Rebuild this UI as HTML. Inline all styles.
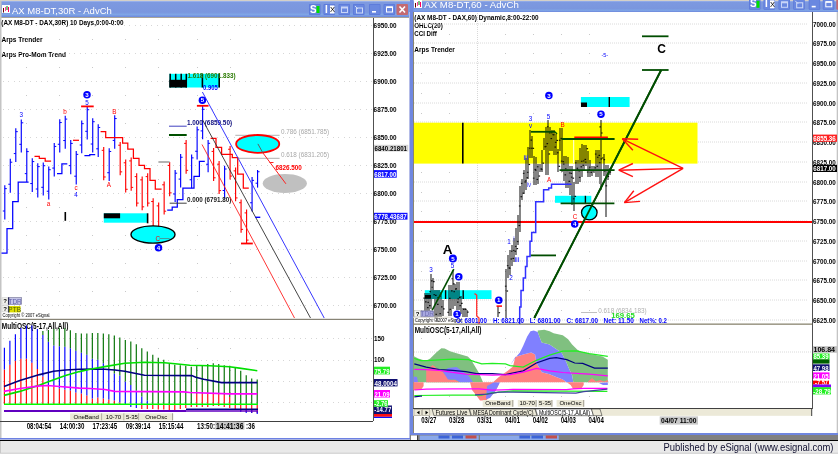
<!DOCTYPE html><html><head><meta charset="utf-8"><style>html,body{margin:0;padding:0;background:#ebebeb;overflow:hidden}svg{display:block}text{font-family:"Liberation Sans",sans-serif}</style></head><body>
<svg width="838" height="454" viewBox="0 0 838 454">
<defs>
<linearGradient id="tb" x1="0" y1="0" x2="0" y2="1">
<stop offset="0" stop-color="#a6bdf2"/><stop offset="0.08" stop-color="#7d99e0"/><stop offset="0.7" stop-color="#7a96de"/><stop offset="0.85" stop-color="#7fa5e6"/><stop offset="1" stop-color="#6c87dc"/>
</linearGradient>
</defs>
<rect x="0" y="0" width="838" height="454" fill="#ebebeb" />
<rect x="0" y="440" width="838" height="1" fill="#000" />
<rect x="0" y="441" width="838" height="13" fill="#e9e9e9" />
<rect x="0" y="452.5" width="838" height="1.5" fill="#d8d8d8" />
<rect x="0" y="441" width="1" height="12" fill="#c8c8c8" />
<text x="663.5" y="450.5" font-size="11" fill="#101030" textLength="170" lengthAdjust="spacingAndGlyphs" >Published by eSignal (www.esignal.com)</text>
<rect x="0" y="0" width="410" height="1" fill="#d4d0c8" />
<rect x="0" y="1" width="410" height="16" fill="url(#tb)" />
<rect x="0" y="17" width="410" height="1" fill="#a8a498" />
<rect x="0" y="18" width="410" height="420" fill="#ffffff" />
<rect x="0" y="1" width="1.5" height="437" fill="#c4c4c4" />
<rect x="0" y="438" width="412" height="1.5" fill="#6c80e2" />
<rect x="410" y="0" width="428" height="1" fill="#d4d0c8" />
<rect x="410" y="1" width="428" height="11" fill="url(#tb)" />
<rect x="409" y="12" width="1" height="426" fill="#b4bce8" />
<rect x="410" y="0" width="3.5" height="435" fill="#7088e0" />
<rect x="413" y="12" width="424" height="421" fill="#ffffff" />
<rect x="413" y="12" width="1" height="421" fill="#8a8670" />
<rect x="836.7" y="12" width="1.3" height="421" fill="#c4c4c4" />
<rect x="410" y="433" width="428" height="2.2" fill="#6f86df" />
<rect x="410" y="435" width="428" height="5" fill="#808080" />
<rect x="2" y="5" width="8" height="8" fill="#ffffff" />
<line x1="3.5" y1="8" x2="3.5" y2="12.5" stroke="#6b0000" stroke-width="1" />
<line x1="5.5" y1="7" x2="5.5" y2="11" stroke="#ff40a0" stroke-width="1" />
<line x1="7" y1="6" x2="7" y2="10" stroke="#008000" stroke-width="1" />
<line x1="8.5" y1="7" x2="8.5" y2="12" stroke="#ff0060" stroke-width="1" />
<text x="12" y="13.6" font-size="9.3" fill="#ffffff" textLength="99.8" lengthAdjust="spacingAndGlyphs" >AX M8-DT,30R - AdvCh</text>
<rect x="309" y="4" width="11.5" height="11" fill="#5a78d8" rx="1"/>
<rect x="309.7" y="4.7" width="10.1" height="9.6" fill="#6a88e0" />
<text x="310" y="12.5" font-size="10" fill="#fff" font-weight="bold" >S</text>
<rect x="316.5" y="6" width="3" height="7" fill="#00e000" />
<rect x="323.5" y="4" width="11.5" height="11" fill="#5a78d8" rx="1"/>
<rect x="324.2" y="4.7" width="10.1" height="9.6" fill="#6a88e0" />
<text x="325.0" y="12.5" font-size="10" fill="#fff" font-weight="bold" >I</text>
<rect x="330.0" y="5.5" width="4.5" height="8" fill="#ffffff" />
<text x="330.1" y="12.3" font-size="7.5" fill="#000" >X</text>
<rect x="338.5" y="4" width="11.5" height="11" fill="#5a78d8" rx="1"/>
<rect x="339.2" y="4.7" width="10.1" height="9.6" fill="#6a88e0" />
<rect x="341.5" y="7" width="6" height="5.5" fill="none" stroke="#c8d4f8" stroke-width="1"/>
<rect x="341.5" y="7" width="6" height="1.5" fill="#c8d4f8" />
<rect x="353" y="4" width="11.5" height="11" fill="#5a78d8" rx="1"/>
<rect x="353.7" y="4.7" width="10.1" height="9.6" fill="#6a88e0" />
<rect x="356.5" y="8" width="6" height="5" fill="none" stroke="#d0dcf8" stroke-width="1"/>
<line x1="355" y1="6" x2="358" y2="9" stroke="#d0dcf8" stroke-width="1" />
<rect x="369" y="4" width="11.5" height="11" fill="#5a78d8" rx="1"/>
<rect x="369.7" y="4.7" width="10.1" height="9.6" fill="#6a88e0" />
<rect x="372" y="11" width="4" height="1.6" fill="#ffffff" />
<rect x="383.5" y="4" width="11.5" height="11" fill="#5a78d8" rx="1"/>
<rect x="384.2" y="4.7" width="10.1" height="9.6" fill="#6a88e0" />
<rect x="386.5" y="7" width="6" height="5" fill="none" stroke="#ffffff" stroke-width="1"/>
<rect x="386.5" y="6.5" width="6" height="1.5" fill="#ffffff" />
<rect x="396.5" y="4" width="11.5" height="11" fill="#c46a70" rx="1"/>
<line x1="399.5" y1="6.5" x2="405.0" y2="12.5" stroke="#fff" stroke-width="1.6" />
<line x1="405.0" y1="6.5" x2="399.5" y2="12.5" stroke="#fff" stroke-width="1.6" />
<rect x="414" y="0" width="8" height="8" fill="#ffffff" />
<line x1="415.5" y1="3" x2="415.5" y2="7.5" stroke="#6b0000" stroke-width="1" />
<line x1="417.5" y1="2" x2="417.5" y2="6" stroke="#ff40a0" stroke-width="1" />
<line x1="419" y1="1" x2="419" y2="5" stroke="#008000" stroke-width="1" />
<line x1="420.5" y1="2" x2="420.5" y2="7" stroke="#ff0060" stroke-width="1" />
<text x="424.3" y="7.5" font-size="9.3" fill="#ffffff" textLength="94.5" lengthAdjust="spacingAndGlyphs" >AX M8-DT,60 - AdvCh</text>
<rect x="749" y="-1.2" width="11.5" height="11" fill="#5a78d8" rx="1"/>
<rect x="749.7" y="-0.5" width="10.1" height="9.6" fill="#6a88e0" />
<text x="750" y="7.300000000000001" font-size="10" fill="#fff" font-weight="bold" >S</text>
<rect x="756.5" y="0.8" width="3" height="7" fill="#00e000" />
<rect x="763.5" y="-1.2" width="11.5" height="11" fill="#5a78d8" rx="1"/>
<rect x="764.2" y="-0.5" width="10.1" height="9.6" fill="#6a88e0" />
<text x="765.0" y="7.300000000000001" font-size="10" fill="#fff" font-weight="bold" >I</text>
<rect x="770.0" y="0.30000000000000004" width="4.5" height="8" fill="#ffffff" />
<text x="770.1" y="7.1000000000000005" font-size="7.5" fill="#000" >X</text>
<rect x="778.5" y="-1.2" width="11.5" height="11" fill="#5a78d8" rx="1"/>
<rect x="779.2" y="-0.5" width="10.1" height="9.6" fill="#6a88e0" />
<rect x="781.5" y="1.8" width="6" height="5.5" fill="none" stroke="#c8d4f8" stroke-width="1"/>
<rect x="781.5" y="1.8" width="6" height="1.5" fill="#c8d4f8" />
<rect x="793.2" y="-1.2" width="11.5" height="11" fill="#5a78d8" rx="1"/>
<rect x="793.9000000000001" y="-0.5" width="10.1" height="9.6" fill="#6a88e0" />
<rect x="796.7" y="2.8" width="6" height="5" fill="none" stroke="#d0dcf8" stroke-width="1"/>
<line x1="795.2" y1="0.8" x2="798.2" y2="3.8" stroke="#d0dcf8" stroke-width="1" />
<rect x="808.7" y="-1.2" width="11.5" height="11" fill="#5a78d8" rx="1"/>
<rect x="809.4000000000001" y="-0.5" width="10.1" height="9.6" fill="#6a88e0" />
<rect x="811.7" y="5.800000000000001" width="4" height="1.6" fill="#ffffff" />
<rect x="822.8" y="-1.2" width="11.5" height="11" fill="#5a78d8" rx="1"/>
<rect x="823.5" y="-0.5" width="10.1" height="9.6" fill="#6a88e0" />
<rect x="825.8" y="1.8" width="6" height="5" fill="none" stroke="#ffffff" stroke-width="1"/>
<rect x="825.8" y="1.3" width="6" height="1.5" fill="#ffffff" />
<rect x="836.3" y="-1.2" width="11.5" height="11" fill="#c46a70" rx="1"/>
<line x1="839.3" y1="1.3" x2="844.8" y2="7.300000000000001" stroke="#fff" stroke-width="1.6" />
<line x1="844.8" y1="1.3" x2="839.3" y2="7.300000000000001" stroke="#fff" stroke-width="1.6" />
<text x="1.3" y="25.3" font-size="7.6" fill="#000" font-weight="bold" textLength="122.3" lengthAdjust="spacingAndGlyphs" >(AX M8-DT - DAX,30R) 10 Days,0:00-0:00</text>
<text x="1.5" y="41.5" font-size="7.6" fill="#000" font-weight="bold" textLength="41" lengthAdjust="spacingAndGlyphs" >Arps Trender</text>
<text x="1.5" y="57.3" font-size="7.6" fill="#000" font-weight="bold" textLength="64.5" lengthAdjust="spacingAndGlyphs" >Arps Pro-Mom Trend</text>
<text x="414.3" y="20.1" font-size="7.6" fill="#000" font-weight="bold" textLength="124.3" lengthAdjust="spacingAndGlyphs" >(AX M8-DT - DAX,60) Dynamic,8:00-22:00</text>
<text x="414.3" y="28" font-size="7.6" fill="#000" font-weight="bold" textLength="28.6" lengthAdjust="spacingAndGlyphs" >OHLC(20)</text>
<text x="414.3" y="36" font-size="7.6" fill="#000" font-weight="bold" textLength="22.6" lengthAdjust="spacingAndGlyphs" >CCI Diff</text>
<text x="414.3" y="52" font-size="7.6" fill="#000" font-weight="bold" textLength="40.6" lengthAdjust="spacingAndGlyphs" >Arps Trender</text>
<line x1="3" y1="25.5" x2="372" y2="25.5" stroke="#d6d6d6" stroke-width="1" stroke-dasharray="1 4 1 5"/>
<line x1="3" y1="53.5" x2="372" y2="53.5" stroke="#d6d6d6" stroke-width="1" stroke-dasharray="1 4 1 5"/>
<line x1="3" y1="81.5" x2="372" y2="81.5" stroke="#d6d6d6" stroke-width="1" stroke-dasharray="1 4 1 5"/>
<line x1="3" y1="109.5" x2="372" y2="109.5" stroke="#d6d6d6" stroke-width="1" stroke-dasharray="1 4 1 5"/>
<line x1="3" y1="137.5" x2="372" y2="137.5" stroke="#d6d6d6" stroke-width="1" stroke-dasharray="1 4 1 5"/>
<line x1="3" y1="165.5" x2="372" y2="165.5" stroke="#d6d6d6" stroke-width="1" stroke-dasharray="1 4 1 5"/>
<line x1="3" y1="193.5" x2="372" y2="193.5" stroke="#d6d6d6" stroke-width="1" stroke-dasharray="1 4 1 5"/>
<line x1="3" y1="221.5" x2="372" y2="221.5" stroke="#d6d6d6" stroke-width="1" stroke-dasharray="1 4 1 5"/>
<line x1="3" y1="249.5" x2="372" y2="249.5" stroke="#d6d6d6" stroke-width="1" stroke-dasharray="1 4 1 5"/>
<line x1="3" y1="277.5" x2="372" y2="277.5" stroke="#d6d6d6" stroke-width="1" stroke-dasharray="1 4 1 5"/>
<line x1="3" y1="305.5" x2="372" y2="305.5" stroke="#d6d6d6" stroke-width="1" stroke-dasharray="1 4 1 5"/>
<rect x="26" y="39" width="1" height="1" fill="#c8c8c8" />
<rect x="26" y="67" width="1" height="1" fill="#c8c8c8" />
<rect x="26" y="95" width="1" height="1" fill="#c8c8c8" />
<rect x="26" y="123" width="1" height="1" fill="#c8c8c8" />
<rect x="26" y="151" width="1" height="1" fill="#c8c8c8" />
<rect x="26" y="179" width="1" height="1" fill="#c8c8c8" />
<rect x="26" y="207" width="1" height="1" fill="#c8c8c8" />
<rect x="26" y="235" width="1" height="1" fill="#c8c8c8" />
<rect x="26" y="263" width="1" height="1" fill="#c8c8c8" />
<rect x="26" y="291" width="1" height="1" fill="#c8c8c8" />
<rect x="59" y="39" width="1" height="1" fill="#c8c8c8" />
<rect x="59" y="67" width="1" height="1" fill="#c8c8c8" />
<rect x="59" y="95" width="1" height="1" fill="#c8c8c8" />
<rect x="59" y="123" width="1" height="1" fill="#c8c8c8" />
<rect x="59" y="151" width="1" height="1" fill="#c8c8c8" />
<rect x="59" y="179" width="1" height="1" fill="#c8c8c8" />
<rect x="59" y="207" width="1" height="1" fill="#c8c8c8" />
<rect x="59" y="235" width="1" height="1" fill="#c8c8c8" />
<rect x="59" y="263" width="1" height="1" fill="#c8c8c8" />
<rect x="59" y="291" width="1" height="1" fill="#c8c8c8" />
<rect x="92" y="39" width="1" height="1" fill="#c8c8c8" />
<rect x="92" y="67" width="1" height="1" fill="#c8c8c8" />
<rect x="92" y="95" width="1" height="1" fill="#c8c8c8" />
<rect x="92" y="123" width="1" height="1" fill="#c8c8c8" />
<rect x="92" y="151" width="1" height="1" fill="#c8c8c8" />
<rect x="92" y="179" width="1" height="1" fill="#c8c8c8" />
<rect x="92" y="207" width="1" height="1" fill="#c8c8c8" />
<rect x="92" y="235" width="1" height="1" fill="#c8c8c8" />
<rect x="92" y="263" width="1" height="1" fill="#c8c8c8" />
<rect x="92" y="291" width="1" height="1" fill="#c8c8c8" />
<rect x="125" y="39" width="1" height="1" fill="#c8c8c8" />
<rect x="125" y="67" width="1" height="1" fill="#c8c8c8" />
<rect x="125" y="95" width="1" height="1" fill="#c8c8c8" />
<rect x="125" y="123" width="1" height="1" fill="#c8c8c8" />
<rect x="125" y="151" width="1" height="1" fill="#c8c8c8" />
<rect x="125" y="179" width="1" height="1" fill="#c8c8c8" />
<rect x="125" y="207" width="1" height="1" fill="#c8c8c8" />
<rect x="125" y="235" width="1" height="1" fill="#c8c8c8" />
<rect x="125" y="263" width="1" height="1" fill="#c8c8c8" />
<rect x="125" y="291" width="1" height="1" fill="#c8c8c8" />
<rect x="158" y="39" width="1" height="1" fill="#c8c8c8" />
<rect x="158" y="67" width="1" height="1" fill="#c8c8c8" />
<rect x="158" y="95" width="1" height="1" fill="#c8c8c8" />
<rect x="158" y="123" width="1" height="1" fill="#c8c8c8" />
<rect x="158" y="151" width="1" height="1" fill="#c8c8c8" />
<rect x="158" y="179" width="1" height="1" fill="#c8c8c8" />
<rect x="158" y="207" width="1" height="1" fill="#c8c8c8" />
<rect x="158" y="235" width="1" height="1" fill="#c8c8c8" />
<rect x="158" y="263" width="1" height="1" fill="#c8c8c8" />
<rect x="158" y="291" width="1" height="1" fill="#c8c8c8" />
<rect x="197" y="39" width="1" height="1" fill="#c8c8c8" />
<rect x="197" y="67" width="1" height="1" fill="#c8c8c8" />
<rect x="197" y="95" width="1" height="1" fill="#c8c8c8" />
<rect x="197" y="123" width="1" height="1" fill="#c8c8c8" />
<rect x="197" y="151" width="1" height="1" fill="#c8c8c8" />
<rect x="197" y="179" width="1" height="1" fill="#c8c8c8" />
<rect x="197" y="207" width="1" height="1" fill="#c8c8c8" />
<rect x="197" y="235" width="1" height="1" fill="#c8c8c8" />
<rect x="197" y="263" width="1" height="1" fill="#c8c8c8" />
<rect x="197" y="291" width="1" height="1" fill="#c8c8c8" />
<rect x="230" y="39" width="1" height="1" fill="#c8c8c8" />
<rect x="230" y="67" width="1" height="1" fill="#c8c8c8" />
<rect x="230" y="95" width="1" height="1" fill="#c8c8c8" />
<rect x="230" y="123" width="1" height="1" fill="#c8c8c8" />
<rect x="230" y="151" width="1" height="1" fill="#c8c8c8" />
<rect x="230" y="179" width="1" height="1" fill="#c8c8c8" />
<rect x="230" y="207" width="1" height="1" fill="#c8c8c8" />
<rect x="230" y="235" width="1" height="1" fill="#c8c8c8" />
<rect x="230" y="263" width="1" height="1" fill="#c8c8c8" />
<rect x="230" y="291" width="1" height="1" fill="#c8c8c8" />
<rect x="373" y="18" width="1" height="403" fill="#505050" />
<text x="373.6" y="28" font-size="7.6" fill="#000" font-weight="bold" textLength="23" lengthAdjust="spacingAndGlyphs" >6950.00</text>
<text x="373.6" y="56" font-size="7.6" fill="#000" font-weight="bold" textLength="23" lengthAdjust="spacingAndGlyphs" >6925.00</text>
<text x="373.6" y="84" font-size="7.6" fill="#000" font-weight="bold" textLength="23" lengthAdjust="spacingAndGlyphs" >6900.00</text>
<text x="373.6" y="112" font-size="7.6" fill="#000" font-weight="bold" textLength="23" lengthAdjust="spacingAndGlyphs" >6875.00</text>
<text x="373.6" y="140" font-size="7.6" fill="#000" font-weight="bold" textLength="23" lengthAdjust="spacingAndGlyphs" >6850.00</text>
<text x="373.6" y="168" font-size="7.6" fill="#000" font-weight="bold" textLength="23" lengthAdjust="spacingAndGlyphs" >6825.00</text>
<text x="373.6" y="196" font-size="7.6" fill="#000" font-weight="bold" textLength="23" lengthAdjust="spacingAndGlyphs" >6800.00</text>
<text x="373.6" y="224" font-size="7.6" fill="#000" font-weight="bold" textLength="23" lengthAdjust="spacingAndGlyphs" >6775.00</text>
<text x="373.6" y="252" font-size="7.6" fill="#000" font-weight="bold" textLength="23" lengthAdjust="spacingAndGlyphs" >6750.00</text>
<text x="373.6" y="280" font-size="7.6" fill="#000" font-weight="bold" textLength="23" lengthAdjust="spacingAndGlyphs" >6725.00</text>
<text x="373.6" y="308" font-size="7.6" fill="#000" font-weight="bold" textLength="23" lengthAdjust="spacingAndGlyphs" >6700.00</text>
<rect x="0" y="318.8" width="373" height="1.1" fill="#7a7666" />
<rect x="0" y="421" width="373" height="1" fill="#404040" />
<rect x="374" y="144.8" width="34.3" height="6.7" fill="#d4d4d4" />
<text x="374.5" y="150.9" font-size="7.6" fill="#000" font-weight="bold" textLength="32.5" lengthAdjust="spacingAndGlyphs" >6840.21801</text>
<rect x="374" y="170.1" width="22.7" height="7.6" fill="#1010ff" />
<text x="374.3" y="176.7" font-size="7.6" fill="#fff" font-weight="bold" textLength="22" lengthAdjust="spacingAndGlyphs" >6817.00</text>
<rect x="374" y="212.8" width="33.5" height="6.8" fill="#1010ff" />
<text x="374.3" y="218.8" font-size="7.6" fill="#fff" font-weight="bold" textLength="32.5" lengthAdjust="spacingAndGlyphs" >6778.43687</text>
<line x1="4.8" y1="185.2" x2="4.8" y2="219.6" stroke="#0000ff" stroke-width="1.15" />
<line x1="2.8" y1="211.0" x2="4.8" y2="211.0" stroke="#0000ff" stroke-width="1" />
<line x1="4.8" y1="188.64" x2="6.8" y2="188.64" stroke="#0000ff" stroke-width="1" />
<line x1="10.295" y1="158.8" x2="10.295" y2="192.7" stroke="#0000ff" stroke-width="1.15" />
<line x1="8.295" y1="184.225" x2="10.295" y2="184.225" stroke="#0000ff" stroke-width="1" />
<line x1="10.295" y1="162.19" x2="12.295" y2="162.19" stroke="#0000ff" stroke-width="1" />
<line x1="15.79" y1="128.3" x2="15.79" y2="162" stroke="#0000ff" stroke-width="1.15" />
<line x1="13.79" y1="153.575" x2="15.79" y2="153.575" stroke="#0000ff" stroke-width="1" />
<line x1="15.79" y1="131.67000000000002" x2="17.79" y2="131.67000000000002" stroke="#0000ff" stroke-width="1" />
<line x1="21.285" y1="119.5" x2="21.285" y2="152.6" stroke="#0000ff" stroke-width="1.15" />
<line x1="19.285" y1="144.325" x2="21.285" y2="144.325" stroke="#0000ff" stroke-width="1" />
<line x1="21.285" y1="122.81" x2="23.285" y2="122.81" stroke="#0000ff" stroke-width="1" />
<line x1="26.78" y1="148.2" x2="26.78" y2="182.1" stroke="#0000ff" stroke-width="1.15" />
<line x1="24.78" y1="173.625" x2="26.78" y2="173.625" stroke="#0000ff" stroke-width="1" />
<line x1="26.78" y1="151.58999999999997" x2="28.78" y2="151.58999999999997" stroke="#0000ff" stroke-width="1" />
<line x1="32.275" y1="158.2" x2="32.275" y2="192" stroke="#0000ff" stroke-width="1.15" />
<line x1="30.275" y1="183.55" x2="32.275" y2="183.55" stroke="#0000ff" stroke-width="1" />
<line x1="32.275" y1="161.57999999999998" x2="34.275" y2="161.57999999999998" stroke="#0000ff" stroke-width="1" />
<line x1="37.769999999999996" y1="163.2" x2="37.769999999999996" y2="197.6" stroke="#0000ff" stroke-width="1.15" />
<line x1="35.769999999999996" y1="189.0" x2="37.769999999999996" y2="189.0" stroke="#0000ff" stroke-width="1" />
<line x1="37.769999999999996" y1="166.64" x2="39.769999999999996" y2="166.64" stroke="#0000ff" stroke-width="1" />
<line x1="43.265" y1="162.4" x2="43.265" y2="195.6" stroke="#0000ff" stroke-width="1.15" />
<line x1="41.265" y1="187.3" x2="43.265" y2="187.3" stroke="#0000ff" stroke-width="1" />
<line x1="43.265" y1="165.72" x2="45.265" y2="165.72" stroke="#0000ff" stroke-width="1" />
<line x1="48.76" y1="166.4" x2="48.76" y2="199.5" stroke="#0000ff" stroke-width="1.15" />
<line x1="46.76" y1="191.225" x2="48.76" y2="191.225" stroke="#0000ff" stroke-width="1" />
<line x1="48.76" y1="169.71" x2="50.76" y2="169.71" stroke="#0000ff" stroke-width="1" />
<line x1="54.254999999999995" y1="143.1" x2="54.254999999999995" y2="176.4" stroke="#0000ff" stroke-width="1.15" />
<line x1="52.254999999999995" y1="168.075" x2="54.254999999999995" y2="168.075" stroke="#0000ff" stroke-width="1" />
<line x1="54.254999999999995" y1="146.43" x2="56.254999999999995" y2="146.43" stroke="#0000ff" stroke-width="1" />
<line x1="59.75" y1="119.2" x2="59.75" y2="152.6" stroke="#0000ff" stroke-width="1.15" />
<line x1="57.75" y1="144.25" x2="59.75" y2="144.25" stroke="#0000ff" stroke-width="1" />
<line x1="59.75" y1="122.54" x2="61.75" y2="122.54" stroke="#0000ff" stroke-width="1" />
<line x1="65.245" y1="115.8" x2="65.245" y2="148.8" stroke="#0000ff" stroke-width="1.15" />
<line x1="63.245000000000005" y1="140.55" x2="65.245" y2="140.55" stroke="#0000ff" stroke-width="1" />
<line x1="65.245" y1="119.1" x2="67.245" y2="119.1" stroke="#0000ff" stroke-width="1" />
<line x1="70.74" y1="140" x2="70.74" y2="174.2" stroke="#0000ff" stroke-width="1.15" />
<line x1="68.74" y1="165.64999999999998" x2="70.74" y2="165.64999999999998" stroke="#0000ff" stroke-width="1" />
<line x1="70.74" y1="143.42" x2="72.74" y2="143.42" stroke="#0000ff" stroke-width="1" />
<line x1="76.235" y1="151" x2="76.235" y2="184.6" stroke="#0000ff" stroke-width="1.15" />
<line x1="74.235" y1="176.2" x2="76.235" y2="176.2" stroke="#0000ff" stroke-width="1" />
<line x1="76.235" y1="154.36" x2="78.235" y2="154.36" stroke="#0000ff" stroke-width="1" />
<line x1="81.73" y1="120.4" x2="81.73" y2="153.2" stroke="#0000ff" stroke-width="1.15" />
<line x1="79.73" y1="145.0" x2="81.73" y2="145.0" stroke="#0000ff" stroke-width="1" />
<line x1="81.73" y1="123.68" x2="83.73" y2="123.68" stroke="#0000ff" stroke-width="1" />
<line x1="87.225" y1="106.4" x2="87.225" y2="139.6" stroke="#0000ff" stroke-width="1.15" />
<line x1="85.225" y1="131.3" x2="87.225" y2="131.3" stroke="#0000ff" stroke-width="1" />
<line x1="87.225" y1="109.72" x2="89.225" y2="109.72" stroke="#0000ff" stroke-width="1" />
<line x1="92.72" y1="118.3" x2="92.72" y2="152.6" stroke="#0000ff" stroke-width="1.15" />
<line x1="90.72" y1="144.025" x2="92.72" y2="144.025" stroke="#0000ff" stroke-width="1" />
<line x1="92.72" y1="121.72999999999999" x2="94.72" y2="121.72999999999999" stroke="#0000ff" stroke-width="1" />
<line x1="98.215" y1="124.2" x2="98.215" y2="157" stroke="#0000ff" stroke-width="1.15" />
<line x1="96.215" y1="148.8" x2="98.215" y2="148.8" stroke="#0000ff" stroke-width="1" />
<line x1="98.215" y1="127.48" x2="100.215" y2="127.48" stroke="#0000ff" stroke-width="1" />
<line x1="103.71" y1="147" x2="103.71" y2="180.3" stroke="#ff0000" stroke-width="1.15" />
<line x1="101.71" y1="150.33" x2="103.71" y2="150.33" stroke="#ff0000" stroke-width="1" />
<line x1="103.71" y1="176.97" x2="105.71" y2="176.97" stroke="#ff0000" stroke-width="1" />
<line x1="109.205" y1="148.2" x2="109.205" y2="180.9" stroke="#0000ff" stroke-width="1.15" />
<line x1="107.205" y1="172.725" x2="109.205" y2="172.725" stroke="#0000ff" stroke-width="1" />
<line x1="109.205" y1="151.47" x2="111.205" y2="151.47" stroke="#0000ff" stroke-width="1" />
<line x1="114.7" y1="115.2" x2="114.7" y2="148.8" stroke="#0000ff" stroke-width="1.15" />
<line x1="112.7" y1="140.4" x2="114.7" y2="140.4" stroke="#0000ff" stroke-width="1" />
<line x1="114.7" y1="118.56" x2="116.7" y2="118.56" stroke="#0000ff" stroke-width="1" />
<line x1="120.195" y1="141.9" x2="120.195" y2="175.2" stroke="#ff0000" stroke-width="1.15" />
<line x1="118.195" y1="145.23000000000002" x2="120.195" y2="145.23000000000002" stroke="#ff0000" stroke-width="1" />
<line x1="120.195" y1="171.87" x2="122.195" y2="171.87" stroke="#ff0000" stroke-width="1" />
<line x1="125.69" y1="159.5" x2="125.69" y2="192.6" stroke="#ff0000" stroke-width="1.15" />
<line x1="123.69" y1="162.81" x2="125.69" y2="162.81" stroke="#ff0000" stroke-width="1" />
<line x1="125.69" y1="189.29" x2="127.69" y2="189.29" stroke="#ff0000" stroke-width="1" />
<line x1="131.185" y1="157.6" x2="131.185" y2="190.7" stroke="#ff0000" stroke-width="1.15" />
<line x1="129.185" y1="160.91" x2="131.185" y2="160.91" stroke="#ff0000" stroke-width="1" />
<line x1="131.185" y1="187.39" x2="133.185" y2="187.39" stroke="#ff0000" stroke-width="1" />
<line x1="136.68" y1="173.3" x2="136.68" y2="206.4" stroke="#ff0000" stroke-width="1.15" />
<line x1="134.68" y1="176.61" x2="136.68" y2="176.61" stroke="#ff0000" stroke-width="1" />
<line x1="136.68" y1="203.09" x2="138.68" y2="203.09" stroke="#ff0000" stroke-width="1" />
<line x1="142.175" y1="176.5" x2="142.175" y2="210.2" stroke="#ff0000" stroke-width="1.15" />
<line x1="140.175" y1="179.87" x2="142.175" y2="179.87" stroke="#ff0000" stroke-width="1" />
<line x1="142.175" y1="206.82999999999998" x2="144.175" y2="206.82999999999998" stroke="#ff0000" stroke-width="1" />
<line x1="147.67000000000002" y1="173.3" x2="147.67000000000002" y2="206.4" stroke="#ff0000" stroke-width="1.15" />
<line x1="145.67000000000002" y1="176.61" x2="147.67000000000002" y2="176.61" stroke="#ff0000" stroke-width="1" />
<line x1="147.67000000000002" y1="203.09" x2="149.67000000000002" y2="203.09" stroke="#ff0000" stroke-width="1" />
<line x1="153.16500000000002" y1="198.2" x2="153.16500000000002" y2="231.5" stroke="#ff0000" stroke-width="1.15" />
<line x1="151.16500000000002" y1="201.53" x2="153.16500000000002" y2="201.53" stroke="#ff0000" stroke-width="1" />
<line x1="153.16500000000002" y1="228.17" x2="155.16500000000002" y2="228.17" stroke="#ff0000" stroke-width="1" />
<line x1="158.66000000000003" y1="202.6" x2="158.66000000000003" y2="235.3" stroke="#ff0000" stroke-width="1.15" />
<line x1="156.66000000000003" y1="205.87" x2="158.66000000000003" y2="205.87" stroke="#ff0000" stroke-width="1" />
<line x1="158.66000000000003" y1="232.03" x2="160.66000000000003" y2="232.03" stroke="#ff0000" stroke-width="1" />
<line x1="164.155" y1="181.5" x2="164.155" y2="214.5" stroke="#ff0000" stroke-width="1.15" />
<line x1="162.155" y1="184.8" x2="164.155" y2="184.8" stroke="#ff0000" stroke-width="1" />
<line x1="164.155" y1="211.2" x2="166.155" y2="211.2" stroke="#ff0000" stroke-width="1" />
<line x1="169.65" y1="162" x2="169.65" y2="196.3" stroke="#ff0000" stroke-width="1.15" />
<line x1="167.65" y1="165.43" x2="169.65" y2="165.43" stroke="#ff0000" stroke-width="1" />
<line x1="169.65" y1="192.87" x2="171.65" y2="192.87" stroke="#ff0000" stroke-width="1" />
<line x1="175.145" y1="170" x2="175.145" y2="202" stroke="#0000ff" stroke-width="1.15" />
<line x1="173.145" y1="194.0" x2="175.145" y2="194.0" stroke="#0000ff" stroke-width="1" />
<line x1="175.145" y1="173.2" x2="177.145" y2="173.2" stroke="#0000ff" stroke-width="1" />
<line x1="180.64000000000001" y1="153.9" x2="180.64000000000001" y2="187.5" stroke="#0000ff" stroke-width="1.15" />
<line x1="178.64000000000001" y1="179.1" x2="180.64000000000001" y2="179.1" stroke="#0000ff" stroke-width="1" />
<line x1="180.64000000000001" y1="157.26" x2="182.64000000000001" y2="157.26" stroke="#0000ff" stroke-width="1" />
<line x1="186.13500000000002" y1="140" x2="186.13500000000002" y2="173.7" stroke="#ff0000" stroke-width="1.15" />
<line x1="184.13500000000002" y1="143.37" x2="186.13500000000002" y2="143.37" stroke="#ff0000" stroke-width="1" />
<line x1="186.13500000000002" y1="170.32999999999998" x2="188.13500000000002" y2="170.32999999999998" stroke="#ff0000" stroke-width="1" />
<line x1="191.63000000000002" y1="154.5" x2="191.63000000000002" y2="188.2" stroke="#0000ff" stroke-width="1.15" />
<line x1="189.63000000000002" y1="179.77499999999998" x2="191.63000000000002" y2="179.77499999999998" stroke="#0000ff" stroke-width="1" />
<line x1="191.63000000000002" y1="157.87" x2="193.63000000000002" y2="157.87" stroke="#0000ff" stroke-width="1" />
<line x1="197.12500000000003" y1="126.5" x2="197.12500000000003" y2="159.5" stroke="#0000ff" stroke-width="1.15" />
<line x1="195.12500000000003" y1="151.25" x2="197.12500000000003" y2="151.25" stroke="#0000ff" stroke-width="1" />
<line x1="197.12500000000003" y1="129.8" x2="199.12500000000003" y2="129.8" stroke="#0000ff" stroke-width="1" />
<line x1="202.62" y1="106" x2="202.62" y2="139.2" stroke="#0000ff" stroke-width="1.15" />
<line x1="200.62" y1="130.89999999999998" x2="202.62" y2="130.89999999999998" stroke="#0000ff" stroke-width="1" />
<line x1="202.62" y1="109.32" x2="204.62" y2="109.32" stroke="#0000ff" stroke-width="1" />
<line x1="208.115" y1="140.1" x2="208.115" y2="172.3" stroke="#0000ff" stroke-width="1.15" />
<line x1="206.115" y1="164.25" x2="208.115" y2="164.25" stroke="#0000ff" stroke-width="1" />
<line x1="208.115" y1="143.32" x2="210.115" y2="143.32" stroke="#0000ff" stroke-width="1" />
<line x1="213.61" y1="148.1" x2="213.61" y2="181.1" stroke="#ff0000" stroke-width="1.15" />
<line x1="211.61" y1="151.4" x2="213.61" y2="151.4" stroke="#ff0000" stroke-width="1" />
<line x1="213.61" y1="177.79999999999998" x2="215.61" y2="177.79999999999998" stroke="#ff0000" stroke-width="1" />
<line x1="219.10500000000002" y1="160.9" x2="219.10500000000002" y2="193.9" stroke="#ff0000" stroke-width="1.15" />
<line x1="217.10500000000002" y1="164.20000000000002" x2="219.10500000000002" y2="164.20000000000002" stroke="#ff0000" stroke-width="1" />
<line x1="219.10500000000002" y1="190.6" x2="221.10500000000002" y2="190.6" stroke="#ff0000" stroke-width="1" />
<line x1="224.60000000000002" y1="165.7" x2="224.60000000000002" y2="198.8" stroke="#0000ff" stroke-width="1.15" />
<line x1="222.60000000000002" y1="190.525" x2="224.60000000000002" y2="190.525" stroke="#0000ff" stroke-width="1" />
<line x1="224.60000000000002" y1="169.01" x2="226.60000000000002" y2="169.01" stroke="#0000ff" stroke-width="1" />
<line x1="230.09500000000003" y1="145.9" x2="230.09500000000003" y2="179.4" stroke="#ff0000" stroke-width="1.15" />
<line x1="228.09500000000003" y1="149.25" x2="230.09500000000003" y2="149.25" stroke="#ff0000" stroke-width="1" />
<line x1="230.09500000000003" y1="176.05" x2="232.09500000000003" y2="176.05" stroke="#ff0000" stroke-width="1" />
<line x1="235.59" y1="167.5" x2="235.59" y2="201.3" stroke="#ff0000" stroke-width="1.15" />
<line x1="233.59" y1="170.88" x2="235.59" y2="170.88" stroke="#ff0000" stroke-width="1" />
<line x1="235.59" y1="197.92000000000002" x2="237.59" y2="197.92000000000002" stroke="#ff0000" stroke-width="1" />
<line x1="241.085" y1="199.4" x2="241.085" y2="232.7" stroke="#ff0000" stroke-width="1.15" />
<line x1="239.085" y1="202.73000000000002" x2="241.085" y2="202.73000000000002" stroke="#ff0000" stroke-width="1" />
<line x1="241.085" y1="229.37" x2="243.085" y2="229.37" stroke="#ff0000" stroke-width="1" />
<line x1="246.58" y1="209.5" x2="246.58" y2="243.5" stroke="#ff0000" stroke-width="1.15" />
<line x1="244.58" y1="212.9" x2="246.58" y2="212.9" stroke="#ff0000" stroke-width="1" />
<line x1="246.58" y1="240.1" x2="248.58" y2="240.1" stroke="#ff0000" stroke-width="1" />
<line x1="252.07500000000002" y1="176.9" x2="252.07500000000002" y2="211.4" stroke="#0000ff" stroke-width="1.15" />
<line x1="250.07500000000002" y1="202.775" x2="252.07500000000002" y2="202.775" stroke="#0000ff" stroke-width="1" />
<line x1="252.07500000000002" y1="180.35" x2="254.07500000000002" y2="180.35" stroke="#0000ff" stroke-width="1" />
<line x1="257.57" y1="170" x2="257.57" y2="187.6" stroke="#0000ff" stroke-width="1.15" />
<line x1="255.57" y1="183.2" x2="257.57" y2="183.2" stroke="#0000ff" stroke-width="1" />
<line x1="257.57" y1="171.76" x2="259.57" y2="171.76" stroke="#0000ff" stroke-width="1" />
<polyline points="34.5,156.3 39.3,156.3 39.3,158.4 45.2,158.4 45.2,161.1 51.1,161.1" fill="none" stroke="#ff0000" stroke-width="1.25" />
<polyline points="57,173.5 61.9,173.5 61.9,163.8 67.3,163.8" fill="none" stroke="#0000ff" stroke-width="1.25" />
<polyline points="73,140.3 79,140.3" fill="none" stroke="#ff0000" stroke-width="1.25" />
<polyline points="84.4,155.5 89.8,155.5 89.8,154.5 95.2,154.5" fill="none" stroke="#0000ff" stroke-width="1.25" />
<polyline points="1.5,253.2 7,253.2 7,228.5 12.7,228.5 12.7,201.6 18.2,201.6 18.2,182.2 28.6,182.2" fill="none" stroke="#0000ff" stroke-width="1.25" />
<polyline points="100.6,131.7 105.7,131.7 105.7,137.5 122.6,137.5 122.6,143.2 127.8,143.2 127.8,149.2 133.4,149.2 133.4,158.3 139,158.3 139,165.4 144.5,165.4 144.5,168.7 150,168.7 150,180.3 155.3,180.3 155.3,189 161.6,189" fill="none" stroke="#ff0000" stroke-width="1.25" />
<polyline points="167.2,210.2 172.2,210.2 172.2,207 177.3,207 177.3,199.5 182.9,199.5 182.9,188.2 194,188.2 194,176.3 199.4,176.3 199.4,161.3 204.8,161.3" fill="none" stroke="#0000ff" stroke-width="1.25" />
<polyline points="210.6,138.4 216,138.4 216,147.4 221.6,147.4 221.6,154.3 232.3,154.3 232.3,157.7 237.7,157.7 237.7,174 243.3,174 243.3,188.2 248.8,188.2" fill="none" stroke="#ff0000" stroke-width="1.25" />
<text x="21.2" y="117.3" font-size="6.3" fill="#0000ff" font-weight="normal" text-anchor="middle" >3</text>
<text x="65" y="114.2" font-size="6.3" fill="#ff0000" font-weight="normal" text-anchor="middle" >b</text>
<text x="87" y="104.6" font-size="6.3" fill="#0000ff" font-weight="normal" text-anchor="middle" >5</text>
<circle cx="87" cy="94.7" r="3.75" fill="#0000ff"/>
<text x="87" y="96.8" font-size="6.2" fill="#ffffff" font-weight="bold" text-anchor="middle" >3</text>
<line x1="81.1" y1="106.4" x2="93.7" y2="106.4" stroke="#ff0000" stroke-width="1.8" />
<text x="48.5" y="206" font-size="6.3" fill="#ff0000" font-weight="normal" text-anchor="middle" >a</text>
<text x="76" y="190.4" font-size="6.3" fill="#ff0000" font-weight="normal" text-anchor="middle" >c</text>
<text x="76" y="197.2" font-size="6.3" fill="#0000ff" font-weight="normal" text-anchor="middle" >4</text>
<text x="114.4" y="114.2" font-size="6.3" fill="#ff0000" font-weight="normal" text-anchor="middle" >B</text>
<text x="108.8" y="187.2" font-size="6.3" fill="#ff0000" font-weight="normal" text-anchor="middle" >A</text>
<circle cx="202.4" cy="100.2" r="3.75" fill="#0000ff"/>
<text x="202.4" y="102.3" font-size="6.2" fill="#ffffff" font-weight="bold" text-anchor="middle" >5</text>
<line x1="196.9" y1="105.8" x2="208.5" y2="105.8" stroke="#ff0000" stroke-width="1.8" />
<line x1="65.3" y1="212" x2="65.3" y2="220.8" stroke="#000" stroke-width="1.6" />
<rect x="103.8" y="213.3" width="43.7" height="9.4" fill="#00ffff" />
<rect x="103.8" y="213.3" width="16.3" height="5" fill="#000000" />
<line x1="147.6" y1="213.3" x2="147.6" y2="223.3" stroke="#000" stroke-width="1.6" />
<ellipse cx="153" cy="234.5" rx="22" ry="8.6" fill="#00ffff" stroke="#000" stroke-width="1.4"/>
<text x="157.8" y="241.3" font-size="6.3" fill="#ff0000" font-weight="normal" text-anchor="middle" >C</text>
<line x1="159.6" y1="238.5" x2="169.6" y2="238.5" stroke="#40a0a0" stroke-width="1" />
<circle cx="158.5" cy="247.7" r="3.75" fill="#0000ff"/>
<text x="158.5" y="249.79999999999998" font-size="6.2" fill="#ffffff" font-weight="bold" text-anchor="middle" >4</text>
<rect x="169.4" y="73.8" width="50.1" height="13.7" fill="#00ffff" />
<rect x="169.4" y="79.8" width="17.6" height="7.7" fill="#000" />
<line x1="170.2" y1="73.8" x2="170.2" y2="87.5" stroke="#000" stroke-width="1.5" />
<line x1="175.7" y1="73.8" x2="175.7" y2="87.5" stroke="#000" stroke-width="1.5" />
<line x1="181.2" y1="73.8" x2="181.2" y2="87.5" stroke="#000" stroke-width="1.5" />
<line x1="186.3" y1="73.8" x2="186.3" y2="87.5" stroke="#000" stroke-width="1.5" />
<line x1="202.4" y1="73.8" x2="202.4" y2="87.5" stroke="#000" stroke-width="1.6" />
<line x1="219.2" y1="73.8" x2="219.2" y2="87.5" stroke="#000" stroke-width="1.6" />
<text x="187.5" y="77.8" font-size="6.8" fill="#2a7a00" font-weight="bold" textLength="48" lengthAdjust="spacingAndGlyphs" >1.618 (6901.833)</text>
<text x="203" y="90.4" font-size="6.8" fill="#0000ff" font-weight="bold" textLength="14.8" lengthAdjust="spacingAndGlyphs" >0.905</text>
<line x1="169" y1="126.2" x2="186.7" y2="126.2" stroke="#4040c0" stroke-width="1" />
<line x1="169" y1="135" x2="186.7" y2="135" stroke="#005000" stroke-width="2" />
<text x="186.9" y="125.1" font-size="6.6" fill="#101080" font-weight="bold" textLength="45.2" lengthAdjust="spacingAndGlyphs" >1.000 (6859.50)</text>
<line x1="158.4" y1="162" x2="169.7" y2="162" stroke="#a0a0a0" stroke-width="1.6" />
<line x1="169.7" y1="203.2" x2="186.7" y2="203.2" stroke="#404040" stroke-width="1" />
<text x="187" y="202.2" font-size="6.6" fill="#202020" font-weight="bold" textLength="44.4" lengthAdjust="spacingAndGlyphs" >0.000 (6791.80)</text>
<line x1="202.4" y1="92" x2="324.2" y2="318" stroke="#2020ff" stroke-width="0.9" />
<line x1="202.6" y1="120" x2="310.5" y2="318" stroke="#303030" stroke-width="0.9" />
<line x1="202" y1="144.5" x2="294.5" y2="318" stroke="#ff2020" stroke-width="0.9" />
<line x1="241" y1="243.5" x2="252.8" y2="243.5" stroke="#ff0000" stroke-width="1.8" />
<line x1="255.3" y1="217.3" x2="260.3" y2="217.3" stroke="#0000ff" stroke-width="1.4" />
<line x1="235.3" y1="135.3" x2="279.6" y2="135.3" stroke="#b0b0b0" stroke-width="1" />
<line x1="238.8" y1="158.3" x2="279.6" y2="158.3" stroke="#b0b0b0" stroke-width="1" />
<text x="280.9" y="133.8" font-size="6.6" fill="#a8a8a8" font-weight="normal" textLength="48.3" lengthAdjust="spacingAndGlyphs" >0.786 (6851.785)</text>
<text x="280.9" y="156.7" font-size="6.6" fill="#a8a8a8" font-weight="normal" textLength="48.3" lengthAdjust="spacingAndGlyphs" >0.618 (6831.205)</text>
<ellipse cx="284.8" cy="183.4" rx="22.1" ry="9.5" fill="#c0c0c0"/>
<ellipse cx="257.7" cy="143.9" rx="21.6" ry="8.9" fill="#00ffff" stroke="#ff0000" stroke-width="1.8"/>
<line x1="257.9" y1="143.9" x2="262.9" y2="152.9" stroke="#606060" stroke-width="1" />
<line x1="262.9" y1="152.9" x2="285.9" y2="183.8" stroke="#ff2020" stroke-width="1" />
<line x1="269.5" y1="162.5" x2="273.5" y2="162.5" stroke="#ff2020" stroke-width="1" />
<text x="275.5" y="170.3" font-size="7" fill="#ff0000" font-weight="bold" textLength="26.4" lengthAdjust="spacingAndGlyphs" >6826.500</text>
<text x="1.8" y="328.7" font-size="8.6" fill="#000" font-weight="bold" textLength="66.5" lengthAdjust="spacingAndGlyphs" >MultiOSC(5-17,All,All)</text>
<line x1="3" y1="338.5" x2="372" y2="338.5" stroke="#d6d6d6" stroke-width="1" stroke-dasharray="1 4 1 5"/>
<line x1="3" y1="360.5" x2="372" y2="360.5" stroke="#d6d6d6" stroke-width="1" stroke-dasharray="1 4 1 5"/>
<line x1="3" y1="381.5" x2="372" y2="381.5" stroke="#d6d6d6" stroke-width="1" stroke-dasharray="1 4 1 5"/>
<line x1="3" y1="402.5" x2="372" y2="402.5" stroke="#d6d6d6" stroke-width="1" stroke-dasharray="1 4 1 5"/>
<rect x="26" y="348" width="1" height="1" fill="#c8c8c8" />
<rect x="26" y="370" width="1" height="1" fill="#c8c8c8" />
<rect x="26" y="392" width="1" height="1" fill="#c8c8c8" />
<rect x="59" y="348" width="1" height="1" fill="#c8c8c8" />
<rect x="59" y="370" width="1" height="1" fill="#c8c8c8" />
<rect x="59" y="392" width="1" height="1" fill="#c8c8c8" />
<rect x="92" y="348" width="1" height="1" fill="#c8c8c8" />
<rect x="92" y="370" width="1" height="1" fill="#c8c8c8" />
<rect x="92" y="392" width="1" height="1" fill="#c8c8c8" />
<rect x="125" y="348" width="1" height="1" fill="#c8c8c8" />
<rect x="125" y="370" width="1" height="1" fill="#c8c8c8" />
<rect x="125" y="392" width="1" height="1" fill="#c8c8c8" />
<rect x="158" y="348" width="1" height="1" fill="#c8c8c8" />
<rect x="158" y="370" width="1" height="1" fill="#c8c8c8" />
<rect x="158" y="392" width="1" height="1" fill="#c8c8c8" />
<rect x="197" y="348" width="1" height="1" fill="#c8c8c8" />
<rect x="197" y="370" width="1" height="1" fill="#c8c8c8" />
<rect x="197" y="392" width="1" height="1" fill="#c8c8c8" />
<rect x="230" y="348" width="1" height="1" fill="#c8c8c8" />
<rect x="230" y="370" width="1" height="1" fill="#c8c8c8" />
<rect x="230" y="392" width="1" height="1" fill="#c8c8c8" />
<line x1="4.4" y1="369.6" x2="4.4" y2="404" stroke="#ff0000" stroke-width="1.15" />
<line x1="4.4" y1="347.8" x2="4.4" y2="369.6" stroke="#0000ff" stroke-width="1.15" />
<line x1="9.896" y1="364.7" x2="9.896" y2="404" stroke="#ff0000" stroke-width="1.15" />
<line x1="9.896" y1="340.8" x2="9.896" y2="364.7" stroke="#0000ff" stroke-width="1.15" />
<line x1="15.392000000000001" y1="360.7" x2="15.392000000000001" y2="404" stroke="#ff0000" stroke-width="1.15" />
<line x1="15.392000000000001" y1="334.3" x2="15.392000000000001" y2="360.7" stroke="#0000ff" stroke-width="1.15" />
<line x1="20.887999999999998" y1="358.7" x2="20.887999999999998" y2="404" stroke="#ff0000" stroke-width="1.15" />
<line x1="20.887999999999998" y1="328" x2="20.887999999999998" y2="358.7" stroke="#0000ff" stroke-width="1.15" />
<line x1="26.384" y1="358.7" x2="26.384" y2="404" stroke="#ff0000" stroke-width="1.15" />
<line x1="26.384" y1="325.6" x2="26.384" y2="358.7" stroke="#0000ff" stroke-width="1.15" />
<line x1="31.880000000000003" y1="362.7" x2="31.880000000000003" y2="404" stroke="#ff0000" stroke-width="1.15" />
<line x1="31.880000000000003" y1="325.6" x2="31.880000000000003" y2="362.7" stroke="#0000ff" stroke-width="1.15" />
<line x1="37.376" y1="369" x2="37.376" y2="404" stroke="#ff0000" stroke-width="1.15" />
<line x1="37.376" y1="329" x2="37.376" y2="369" stroke="#0000ff" stroke-width="1.15" />
<line x1="42.872" y1="376.6" x2="42.872" y2="404" stroke="#ff0000" stroke-width="1.15" />
<line x1="42.872" y1="334.9" x2="42.872" y2="376.6" stroke="#0000ff" stroke-width="1.15" />
<line x1="42.872" y1="331" x2="42.872" y2="334.9" stroke="#007000" stroke-width="1.15" />
<line x1="48.368" y1="385.5" x2="48.368" y2="404" stroke="#ff0000" stroke-width="1.15" />
<line x1="48.368" y1="341.8" x2="48.368" y2="385.5" stroke="#0000ff" stroke-width="1.15" />
<line x1="48.368" y1="330" x2="48.368" y2="341.8" stroke="#007000" stroke-width="1.15" />
<line x1="53.864000000000004" y1="386.5" x2="53.864000000000004" y2="404" stroke="#ff0000" stroke-width="1.15" />
<line x1="53.864000000000004" y1="345.4" x2="53.864000000000004" y2="386.5" stroke="#0000ff" stroke-width="1.15" />
<line x1="53.864000000000004" y1="329" x2="53.864000000000004" y2="345.4" stroke="#007000" stroke-width="1.15" />
<line x1="59.36000000000001" y1="388.5" x2="59.36000000000001" y2="404" stroke="#ff0000" stroke-width="1.15" />
<line x1="59.36000000000001" y1="346.2" x2="59.36000000000001" y2="388.5" stroke="#0000ff" stroke-width="1.15" />
<line x1="59.36000000000001" y1="328.3" x2="59.36000000000001" y2="346.2" stroke="#007000" stroke-width="1.15" />
<line x1="64.85600000000001" y1="389.5" x2="64.85600000000001" y2="404" stroke="#ff0000" stroke-width="1.15" />
<line x1="64.85600000000001" y1="346.8" x2="64.85600000000001" y2="389.5" stroke="#0000ff" stroke-width="1.15" />
<line x1="64.85600000000001" y1="328.3" x2="64.85600000000001" y2="346.8" stroke="#007000" stroke-width="1.15" />
<line x1="70.352" y1="390.5" x2="70.352" y2="404" stroke="#ff0000" stroke-width="1.15" />
<line x1="70.352" y1="348.2" x2="70.352" y2="390.5" stroke="#0000ff" stroke-width="1.15" />
<line x1="70.352" y1="330.3" x2="70.352" y2="348.2" stroke="#007000" stroke-width="1.15" />
<line x1="75.84800000000001" y1="392.4" x2="75.84800000000001" y2="404" stroke="#ff0000" stroke-width="1.15" />
<line x1="75.84800000000001" y1="350.8" x2="75.84800000000001" y2="392.4" stroke="#0000ff" stroke-width="1.15" />
<line x1="75.84800000000001" y1="332.9" x2="75.84800000000001" y2="350.8" stroke="#007000" stroke-width="1.15" />
<line x1="81.34400000000001" y1="393.4" x2="81.34400000000001" y2="404" stroke="#ff0000" stroke-width="1.15" />
<line x1="81.34400000000001" y1="352.8" x2="81.34400000000001" y2="393.4" stroke="#0000ff" stroke-width="1.15" />
<line x1="81.34400000000001" y1="333.5" x2="81.34400000000001" y2="352.8" stroke="#007000" stroke-width="1.15" />
<line x1="86.84000000000002" y1="395.4" x2="86.84000000000002" y2="404" stroke="#ff0000" stroke-width="1.15" />
<line x1="86.84000000000002" y1="354.7" x2="86.84000000000002" y2="395.4" stroke="#0000ff" stroke-width="1.15" />
<line x1="86.84000000000002" y1="333.5" x2="86.84000000000002" y2="354.7" stroke="#007000" stroke-width="1.15" />
<line x1="92.33600000000001" y1="398.4" x2="92.33600000000001" y2="404" stroke="#ff0000" stroke-width="1.15" />
<line x1="92.33600000000001" y1="358.7" x2="92.33600000000001" y2="398.4" stroke="#0000ff" stroke-width="1.15" />
<line x1="92.33600000000001" y1="332.9" x2="92.33600000000001" y2="358.7" stroke="#007000" stroke-width="1.15" />
<line x1="97.83200000000001" y1="397.4" x2="97.83200000000001" y2="404" stroke="#ff0000" stroke-width="1.15" />
<line x1="97.83200000000001" y1="359.7" x2="97.83200000000001" y2="397.4" stroke="#0000ff" stroke-width="1.15" />
<line x1="97.83200000000001" y1="332.9" x2="97.83200000000001" y2="359.7" stroke="#007000" stroke-width="1.15" />
<line x1="103.32800000000002" y1="398.4" x2="103.32800000000002" y2="404" stroke="#ff0000" stroke-width="1.15" />
<line x1="103.32800000000002" y1="363.3" x2="103.32800000000002" y2="398.4" stroke="#0000ff" stroke-width="1.15" />
<line x1="103.32800000000002" y1="333.5" x2="103.32800000000002" y2="363.3" stroke="#007000" stroke-width="1.15" />
<line x1="108.82400000000001" y1="399.4" x2="108.82400000000001" y2="404" stroke="#ff0000" stroke-width="1.15" />
<line x1="108.82400000000001" y1="369.6" x2="108.82400000000001" y2="399.4" stroke="#0000ff" stroke-width="1.15" />
<line x1="108.82400000000001" y1="334.3" x2="108.82400000000001" y2="369.6" stroke="#007000" stroke-width="1.15" />
<line x1="114.32000000000002" y1="400.4" x2="114.32000000000002" y2="404" stroke="#ff0000" stroke-width="1.15" />
<line x1="114.32000000000002" y1="373.6" x2="114.32000000000002" y2="400.4" stroke="#0000ff" stroke-width="1.15" />
<line x1="114.32000000000002" y1="335.5" x2="114.32000000000002" y2="373.6" stroke="#007000" stroke-width="1.15" />
<line x1="119.81600000000002" y1="402.4" x2="119.81600000000002" y2="404" stroke="#ff0000" stroke-width="1.15" />
<line x1="119.81600000000002" y1="375.6" x2="119.81600000000002" y2="402.4" stroke="#0000ff" stroke-width="1.15" />
<line x1="119.81600000000002" y1="337.5" x2="119.81600000000002" y2="375.6" stroke="#007000" stroke-width="1.15" />
<line x1="125.31200000000001" y1="381.5" x2="125.31200000000001" y2="404" stroke="#0000ff" stroke-width="1.15" />
<line x1="125.31200000000001" y1="339.9" x2="125.31200000000001" y2="381.5" stroke="#007000" stroke-width="1.15" />
<line x1="130.80800000000002" y1="385.1" x2="130.80800000000002" y2="404" stroke="#0000ff" stroke-width="1.15" />
<line x1="130.80800000000002" y1="341.4" x2="130.80800000000002" y2="385.1" stroke="#007000" stroke-width="1.15" />
<line x1="130.80800000000002" y1="404" x2="130.80800000000002" y2="407" stroke="#0000ff" stroke-width="1.15" />
<line x1="136.304" y1="390.5" x2="136.304" y2="404" stroke="#0000ff" stroke-width="1.15" />
<line x1="136.304" y1="344.2" x2="136.304" y2="390.5" stroke="#007000" stroke-width="1.15" />
<line x1="136.304" y1="405" x2="136.304" y2="408" stroke="#0000ff" stroke-width="1.15" />
<line x1="141.8" y1="396.4" x2="141.8" y2="404" stroke="#0000ff" stroke-width="1.15" />
<line x1="141.8" y1="348.2" x2="141.8" y2="396.4" stroke="#007000" stroke-width="1.15" />
<line x1="141.8" y1="404" x2="141.8" y2="409" stroke="#ff0000" stroke-width="1.15" />
<line x1="147.29600000000002" y1="400.4" x2="147.29600000000002" y2="404" stroke="#0000ff" stroke-width="1.15" />
<line x1="147.29600000000002" y1="351.4" x2="147.29600000000002" y2="400.4" stroke="#007000" stroke-width="1.15" />
<line x1="147.29600000000002" y1="404" x2="147.29600000000002" y2="409" stroke="#ff0000" stroke-width="1.15" />
<line x1="152.79200000000003" y1="354.7" x2="152.79200000000003" y2="404" stroke="#007000" stroke-width="1.15" />
<line x1="152.79200000000003" y1="404" x2="152.79200000000003" y2="409" stroke="#ff0000" stroke-width="1.15" />
<line x1="158.288" y1="357.7" x2="158.288" y2="404" stroke="#007000" stroke-width="1.15" />
<line x1="158.288" y1="404" x2="158.288" y2="409.5" stroke="#ff0000" stroke-width="1.15" />
<line x1="163.78400000000002" y1="359.7" x2="163.78400000000002" y2="404" stroke="#007000" stroke-width="1.15" />
<line x1="163.78400000000002" y1="404" x2="163.78400000000002" y2="409.5" stroke="#ff0000" stroke-width="1.15" />
<line x1="169.28000000000003" y1="363.7" x2="169.28000000000003" y2="404" stroke="#007000" stroke-width="1.15" />
<line x1="169.28000000000003" y1="404" x2="169.28000000000003" y2="410" stroke="#ff0000" stroke-width="1.15" />
<line x1="174.776" y1="364.7" x2="174.776" y2="404" stroke="#007000" stroke-width="1.15" />
<line x1="174.776" y1="404" x2="174.776" y2="410" stroke="#ff0000" stroke-width="1.15" />
<line x1="180.27200000000002" y1="365.3" x2="180.27200000000002" y2="404" stroke="#007000" stroke-width="1.15" />
<line x1="180.27200000000002" y1="404" x2="180.27200000000002" y2="409" stroke="#ff0000" stroke-width="1.15" />
<line x1="185.76800000000003" y1="365.7" x2="185.76800000000003" y2="404" stroke="#007000" stroke-width="1.15" />
<line x1="185.76800000000003" y1="404" x2="185.76800000000003" y2="408" stroke="#ff0000" stroke-width="1.15" />
<line x1="191.264" y1="366.7" x2="191.264" y2="404" stroke="#007000" stroke-width="1.15" />
<line x1="191.264" y1="404" x2="191.264" y2="407" stroke="#ff0000" stroke-width="1.15" />
<line x1="196.76000000000002" y1="394" x2="196.76000000000002" y2="404" stroke="#ff0000" stroke-width="1.15" />
<line x1="196.76000000000002" y1="365.7" x2="196.76000000000002" y2="394" stroke="#007000" stroke-width="1.15" />
<line x1="196.76000000000002" y1="404" x2="196.76000000000002" y2="407" stroke="#ff0000" stroke-width="1.15" />
<line x1="202.25600000000003" y1="394" x2="202.25600000000003" y2="404" stroke="#ff0000" stroke-width="1.15" />
<line x1="202.25600000000003" y1="365.3" x2="202.25600000000003" y2="394" stroke="#007000" stroke-width="1.15" />
<line x1="202.25600000000003" y1="404" x2="202.25600000000003" y2="407" stroke="#ff0000" stroke-width="1.15" />
<line x1="207.752" y1="393" x2="207.752" y2="404" stroke="#ff0000" stroke-width="1.15" />
<line x1="207.752" y1="364.1" x2="207.752" y2="393" stroke="#007000" stroke-width="1.15" />
<line x1="207.752" y1="404" x2="207.752" y2="407" stroke="#ff0000" stroke-width="1.15" />
<line x1="213.24800000000002" y1="393" x2="213.24800000000002" y2="404" stroke="#ff0000" stroke-width="1.15" />
<line x1="213.24800000000002" y1="363.3" x2="213.24800000000002" y2="393" stroke="#007000" stroke-width="1.15" />
<line x1="213.24800000000002" y1="404" x2="213.24800000000002" y2="406" stroke="#ff0000" stroke-width="1.15" />
<line x1="218.74400000000003" y1="394" x2="218.74400000000003" y2="404" stroke="#ff0000" stroke-width="1.15" />
<line x1="218.74400000000003" y1="364.1" x2="218.74400000000003" y2="394" stroke="#007000" stroke-width="1.15" />
<line x1="218.74400000000003" y1="404" x2="218.74400000000003" y2="406" stroke="#ff0000" stroke-width="1.15" />
<line x1="224.24000000000004" y1="395" x2="224.24000000000004" y2="404" stroke="#ff0000" stroke-width="1.15" />
<line x1="224.24000000000004" y1="365.3" x2="224.24000000000004" y2="395" stroke="#007000" stroke-width="1.15" />
<line x1="224.24000000000004" y1="404" x2="224.24000000000004" y2="407" stroke="#ff0000" stroke-width="1.15" />
<line x1="229.73600000000002" y1="397" x2="229.73600000000002" y2="404" stroke="#ff0000" stroke-width="1.15" />
<line x1="229.73600000000002" y1="365.7" x2="229.73600000000002" y2="397" stroke="#007000" stroke-width="1.15" />
<line x1="229.73600000000002" y1="404" x2="229.73600000000002" y2="408" stroke="#ff0000" stroke-width="1.15" />
<line x1="235.23200000000003" y1="368.1" x2="235.23200000000003" y2="404" stroke="#007000" stroke-width="1.15" />
<line x1="235.23200000000003" y1="404" x2="235.23200000000003" y2="410" stroke="#ff0000" stroke-width="1.15" />
<line x1="240.72800000000004" y1="370.7" x2="240.72800000000004" y2="404" stroke="#007000" stroke-width="1.15" />
<line x1="240.72800000000004" y1="404" x2="240.72800000000004" y2="411" stroke="#ff0000" stroke-width="1.15" />
<line x1="240.72800000000004" y1="409" x2="240.72800000000004" y2="412" stroke="#0000ff" stroke-width="1.15" />
<line x1="246.22400000000002" y1="375.2" x2="246.22400000000002" y2="404" stroke="#007000" stroke-width="1.15" />
<line x1="246.22400000000002" y1="404" x2="246.22400000000002" y2="412" stroke="#ff0000" stroke-width="1.15" />
<line x1="246.22400000000002" y1="410" x2="246.22400000000002" y2="413" stroke="#0000ff" stroke-width="1.15" />
<line x1="251.72000000000003" y1="378.6" x2="251.72000000000003" y2="404" stroke="#007000" stroke-width="1.15" />
<line x1="251.72000000000003" y1="404" x2="251.72000000000003" y2="413" stroke="#ff0000" stroke-width="1.15" />
<line x1="251.72000000000003" y1="410" x2="251.72000000000003" y2="413" stroke="#0000ff" stroke-width="1.15" />
<line x1="257.216" y1="379.6" x2="257.216" y2="404" stroke="#007000" stroke-width="1.15" />
<line x1="257.216" y1="404" x2="257.216" y2="413" stroke="#ff0000" stroke-width="1.15" />
<line x1="257.216" y1="411" x2="257.216" y2="414" stroke="#0000ff" stroke-width="1.15" />
<line x1="4" y1="404.2" x2="258" y2="404.2" stroke="#00ff00" stroke-width="1.6" />
<line x1="4" y1="411" x2="186" y2="411" stroke="#6000c0" stroke-width="2.2" />
<line x1="186" y1="411" x2="258" y2="411" stroke="#6000c0" stroke-width="1.4" />
<line x1="186" y1="409.3" x2="258" y2="409.3" stroke="#000080" stroke-width="1.4" />
<polyline points="4,386.5 19.8,380.5 39.7,374.6 53.6,371.2 65.5,370 79.4,369.2 96.9,369 104.8,369.2 114.8,370 124.7,371.2 134.6,373.2 144.5,375.2 191.8,375.6 195.8,377.2 203.7,379.2 221.6,382.6 257.3,382.6" fill="none" stroke="#000080" stroke-width="1.6" />
<polyline points="4,395.4 19.8,391.4 39.7,385.1 51.6,380.5 65.5,375.6 79.4,371.6 90,369.2 104.8,366.6 124.7,363.3 144.5,362.3 164.4,362.7 175,363.7 189.8,365.3 209.7,365.7 229.5,366.7 239.4,368.1 257.3,370.7" fill="none" stroke="#00e000" stroke-width="1.6" />
<polyline points="4,391.4 19.8,388.5 39.7,385.9 47.6,385.5 59.5,386.5 79.4,388.1 90,388.5 104.8,389.5 114.8,391.4 183.9,391.9 189.8,392.5 229.5,393.9 257.3,393.9" fill="none" stroke="#ff00ff" stroke-width="1.6" />
<text x="374" y="341" font-size="7.6" fill="#000" font-weight="bold" textLength="10.5" lengthAdjust="spacingAndGlyphs" >150</text>
<text x="374" y="362.2" font-size="7.6" fill="#000" font-weight="bold" textLength="10.5" lengthAdjust="spacingAndGlyphs" >100</text>
<rect x="374" y="366.7" width="16" height="7.7" fill="#22ee22" />
<text x="374.5" y="373.6" font-size="7.6" fill="#fff" font-weight="bold" textLength="15" lengthAdjust="spacingAndGlyphs" >75.79</text>
<rect x="374" y="379" width="23.5" height="7.4" fill="#101070" />
<text x="374.5" y="385.8" font-size="7.6" fill="#fff" font-weight="bold" textLength="22.5" lengthAdjust="spacingAndGlyphs" >48.0004</text>
<rect x="374" y="390" width="16" height="7.5" fill="#ff00ff" />
<text x="374.5" y="396.9" font-size="7.6" fill="#fff" font-weight="bold" textLength="15" lengthAdjust="spacingAndGlyphs" >21.09</text>
<rect x="374" y="400.2" width="14" height="6.6" fill="#22ee22" />
<text x="374.3" y="406.2" font-size="7.6" fill="#fff" font-weight="bold" textLength="13.2" lengthAdjust="spacingAndGlyphs" >-2.76</text>
<rect x="374" y="406.8" width="18" height="7.2" fill="#101070" />
<rect x="388" y="405.5" width="4" height="1.4" fill="#101070" />
<text x="374.3" y="412.2" font-size="7.6" fill="#fff" font-weight="bold" textLength="17" lengthAdjust="spacingAndGlyphs" >-14.77</text>
<rect x="374" y="414" width="18" height="2.8" fill="#ff1010" />
<rect x="374" y="416.8" width="18" height="1.2" fill="#1010ff" />
<rect x="70.1" y="413.3" width="32.2" height="7.099999999999966" fill="#ece9d8" />
<line x1="101.8" y1="413.3" x2="101.8" y2="420.4" stroke="#a09c90" stroke-width="1" />
<text x="86.19999999999999" y="418.79999999999995" font-size="6" fill="#000" font-weight="normal" text-anchor="middle" >OneBand</text>
<rect x="102.5" y="413.3" width="22.0" height="7.099999999999966" fill="#ece9d8" />
<line x1="124.0" y1="413.3" x2="124.0" y2="420.4" stroke="#a09c90" stroke-width="1" />
<text x="113.5" y="418.79999999999995" font-size="6" fill="#000" font-weight="normal" text-anchor="middle" >10-70</text>
<rect x="124.5" y="413.3" width="14.800000000000011" height="7.099999999999966" fill="#ece9d8" />
<line x1="138.8" y1="413.3" x2="138.8" y2="420.4" stroke="#a09c90" stroke-width="1" />
<text x="131.9" y="418.79999999999995" font-size="6" fill="#000" font-weight="normal" text-anchor="middle" >5-35</text>
<rect x="139.5" y="413.3" width="33.599999999999994" height="7.099999999999966" fill="#ece9d8" />
<line x1="172.6" y1="413.3" x2="172.6" y2="420.4" stroke="#a09c90" stroke-width="1" />
<text x="156.3" y="418.79999999999995" font-size="6" fill="#000" font-weight="normal" text-anchor="middle" >OneOsc</text>
<text x="26.7" y="428.7" font-size="8.2" fill="#000" font-weight="bold" textLength="24.5" lengthAdjust="spacingAndGlyphs" >08:04:54</text>
<text x="59.8" y="428.7" font-size="8.2" fill="#000" font-weight="bold" textLength="24.5" lengthAdjust="spacingAndGlyphs" >14:00:30</text>
<text x="92.6" y="428.7" font-size="8.2" fill="#000" font-weight="bold" textLength="24.5" lengthAdjust="spacingAndGlyphs" >17:23:45</text>
<text x="125.8" y="428.7" font-size="8.2" fill="#000" font-weight="bold" textLength="24.5" lengthAdjust="spacingAndGlyphs" >09:39:14</text>
<text x="158.8" y="428.7" font-size="8.2" fill="#000" font-weight="bold" textLength="24.5" lengthAdjust="spacingAndGlyphs" >15:15:44</text>
<text x="197" y="428.7" font-size="8.2" fill="#000" font-weight="bold" textLength="18" lengthAdjust="spacingAndGlyphs" >13:50:</text>
<rect x="215.2" y="421.7" width="29.2" height="8" fill="#c8c8c8" />
<text x="216" y="428.7" font-size="8.2" fill="#000" font-weight="bold" textLength="27.5" lengthAdjust="spacingAndGlyphs" >14:41:36</text>
<text x="246" y="428.7" font-size="8.2" fill="#000" font-weight="bold" textLength="9" lengthAdjust="spacingAndGlyphs" >:36</text>
<rect x="2" y="297.8" width="6" height="6.3" fill="#f4f4f0" stroke="#c0c0c0" stroke-width="0.5"/>
<text x="5" y="303.2" font-size="6" fill="#000" font-weight="bold" text-anchor="middle" >?</text>
<rect x="8.6" y="297.5" width="13" height="7" fill="#c4c4e8" stroke="#707090" stroke-width="0.6"/>
<rect x="8.2" y="297.5" width="1" height="7.2" fill="#101040" />
<text x="15.1" y="303.8" font-size="6.5" fill="#6060a8" font-weight="normal" text-anchor="middle" >TDR</text>
<rect x="2" y="305.6" width="6" height="6.3" fill="#f4f4f0" stroke="#c0c0c0" stroke-width="0.5"/>
<text x="5" y="311.0" font-size="6" fill="#000" font-weight="bold" text-anchor="middle" >?</text>
<rect x="9" y="306" width="11.5" height="6.4" fill="#dcdc00" />
<rect x="8.2" y="306" width="1" height="6.6" fill="#101040" />
<text x="14.7" y="311.6" font-size="6.5" fill="#506000" font-weight="normal" text-anchor="middle" >PTB</text>
<text x="2.5" y="317.3" font-size="4.6" fill="#000" font-weight="normal" textLength="48" lengthAdjust="spacingAndGlyphs" >Copyright © 2007 eSignal.</text>
<line x1="414" y1="24.0" x2="808" y2="24.0" stroke="#dadada" stroke-width="1" stroke-dasharray="1 1"/>
<line x1="414" y1="43.0" x2="808" y2="43.0" stroke="#dadada" stroke-width="1" stroke-dasharray="1 1"/>
<line x1="414" y1="63.0" x2="808" y2="63.0" stroke="#dadada" stroke-width="1" stroke-dasharray="1 1"/>
<line x1="414" y1="83.0" x2="808" y2="83.0" stroke="#dadada" stroke-width="1" stroke-dasharray="1 1"/>
<line x1="414" y1="103.0" x2="808" y2="103.0" stroke="#dadada" stroke-width="1" stroke-dasharray="1 1"/>
<line x1="414" y1="122.0" x2="808" y2="122.0" stroke="#dadada" stroke-width="1" stroke-dasharray="1 1"/>
<line x1="414" y1="142.0" x2="808" y2="142.0" stroke="#dadada" stroke-width="1" stroke-dasharray="1 1"/>
<line x1="414" y1="162.0" x2="808" y2="162.0" stroke="#dadada" stroke-width="1" stroke-dasharray="1 1"/>
<line x1="414" y1="182.0" x2="808" y2="182.0" stroke="#dadada" stroke-width="1" stroke-dasharray="1 1"/>
<line x1="414" y1="201.0" x2="808" y2="201.0" stroke="#dadada" stroke-width="1" stroke-dasharray="1 1"/>
<line x1="414" y1="221.0" x2="808" y2="221.0" stroke="#dadada" stroke-width="1" stroke-dasharray="1 1"/>
<line x1="414" y1="241.0" x2="808" y2="241.0" stroke="#dadada" stroke-width="1" stroke-dasharray="1 1"/>
<line x1="414" y1="261.0" x2="808" y2="261.0" stroke="#dadada" stroke-width="1" stroke-dasharray="1 1"/>
<line x1="414" y1="280.0" x2="808" y2="280.0" stroke="#dadada" stroke-width="1" stroke-dasharray="1 1"/>
<line x1="414" y1="300.0" x2="808" y2="300.0" stroke="#dadada" stroke-width="1" stroke-dasharray="1 1"/>
<line x1="414" y1="320.0" x2="808" y2="320.0" stroke="#dadada" stroke-width="1" stroke-dasharray="1 1"/>
<rect x="421" y="34" width="1" height="1" fill="#c8c8c8" />
<rect x="421" y="53" width="1" height="1" fill="#c8c8c8" />
<rect x="421" y="73" width="1" height="1" fill="#c8c8c8" />
<rect x="421" y="93" width="1" height="1" fill="#c8c8c8" />
<rect x="421" y="113" width="1" height="1" fill="#c8c8c8" />
<rect x="421" y="132" width="1" height="1" fill="#c8c8c8" />
<rect x="421" y="152" width="1" height="1" fill="#c8c8c8" />
<rect x="421" y="172" width="1" height="1" fill="#c8c8c8" />
<rect x="421" y="192" width="1" height="1" fill="#c8c8c8" />
<rect x="421" y="211" width="1" height="1" fill="#c8c8c8" />
<rect x="421" y="231" width="1" height="1" fill="#c8c8c8" />
<rect x="421" y="251" width="1" height="1" fill="#c8c8c8" />
<rect x="421" y="271" width="1" height="1" fill="#c8c8c8" />
<rect x="421" y="290" width="1" height="1" fill="#c8c8c8" />
<rect x="421" y="310" width="1" height="1" fill="#c8c8c8" />
<rect x="449" y="34" width="1" height="1" fill="#c8c8c8" />
<rect x="449" y="53" width="1" height="1" fill="#c8c8c8" />
<rect x="449" y="73" width="1" height="1" fill="#c8c8c8" />
<rect x="449" y="93" width="1" height="1" fill="#c8c8c8" />
<rect x="449" y="113" width="1" height="1" fill="#c8c8c8" />
<rect x="449" y="132" width="1" height="1" fill="#c8c8c8" />
<rect x="449" y="152" width="1" height="1" fill="#c8c8c8" />
<rect x="449" y="172" width="1" height="1" fill="#c8c8c8" />
<rect x="449" y="192" width="1" height="1" fill="#c8c8c8" />
<rect x="449" y="211" width="1" height="1" fill="#c8c8c8" />
<rect x="449" y="231" width="1" height="1" fill="#c8c8c8" />
<rect x="449" y="251" width="1" height="1" fill="#c8c8c8" />
<rect x="449" y="271" width="1" height="1" fill="#c8c8c8" />
<rect x="449" y="290" width="1" height="1" fill="#c8c8c8" />
<rect x="449" y="310" width="1" height="1" fill="#c8c8c8" />
<rect x="505" y="34" width="1" height="1" fill="#c8c8c8" />
<rect x="505" y="53" width="1" height="1" fill="#c8c8c8" />
<rect x="505" y="73" width="1" height="1" fill="#c8c8c8" />
<rect x="505" y="93" width="1" height="1" fill="#c8c8c8" />
<rect x="505" y="113" width="1" height="1" fill="#c8c8c8" />
<rect x="505" y="132" width="1" height="1" fill="#c8c8c8" />
<rect x="505" y="152" width="1" height="1" fill="#c8c8c8" />
<rect x="505" y="172" width="1" height="1" fill="#c8c8c8" />
<rect x="505" y="192" width="1" height="1" fill="#c8c8c8" />
<rect x="505" y="211" width="1" height="1" fill="#c8c8c8" />
<rect x="505" y="231" width="1" height="1" fill="#c8c8c8" />
<rect x="505" y="251" width="1" height="1" fill="#c8c8c8" />
<rect x="505" y="271" width="1" height="1" fill="#c8c8c8" />
<rect x="505" y="290" width="1" height="1" fill="#c8c8c8" />
<rect x="505" y="310" width="1" height="1" fill="#c8c8c8" />
<rect x="533" y="34" width="1" height="1" fill="#c8c8c8" />
<rect x="533" y="53" width="1" height="1" fill="#c8c8c8" />
<rect x="533" y="73" width="1" height="1" fill="#c8c8c8" />
<rect x="533" y="93" width="1" height="1" fill="#c8c8c8" />
<rect x="533" y="113" width="1" height="1" fill="#c8c8c8" />
<rect x="533" y="132" width="1" height="1" fill="#c8c8c8" />
<rect x="533" y="152" width="1" height="1" fill="#c8c8c8" />
<rect x="533" y="172" width="1" height="1" fill="#c8c8c8" />
<rect x="533" y="192" width="1" height="1" fill="#c8c8c8" />
<rect x="533" y="211" width="1" height="1" fill="#c8c8c8" />
<rect x="533" y="231" width="1" height="1" fill="#c8c8c8" />
<rect x="533" y="251" width="1" height="1" fill="#c8c8c8" />
<rect x="533" y="271" width="1" height="1" fill="#c8c8c8" />
<rect x="533" y="290" width="1" height="1" fill="#c8c8c8" />
<rect x="533" y="310" width="1" height="1" fill="#c8c8c8" />
<rect x="561" y="34" width="1" height="1" fill="#c8c8c8" />
<rect x="561" y="53" width="1" height="1" fill="#c8c8c8" />
<rect x="561" y="73" width="1" height="1" fill="#c8c8c8" />
<rect x="561" y="93" width="1" height="1" fill="#c8c8c8" />
<rect x="561" y="113" width="1" height="1" fill="#c8c8c8" />
<rect x="561" y="132" width="1" height="1" fill="#c8c8c8" />
<rect x="561" y="152" width="1" height="1" fill="#c8c8c8" />
<rect x="561" y="172" width="1" height="1" fill="#c8c8c8" />
<rect x="561" y="192" width="1" height="1" fill="#c8c8c8" />
<rect x="561" y="211" width="1" height="1" fill="#c8c8c8" />
<rect x="561" y="231" width="1" height="1" fill="#c8c8c8" />
<rect x="561" y="251" width="1" height="1" fill="#c8c8c8" />
<rect x="561" y="271" width="1" height="1" fill="#c8c8c8" />
<rect x="561" y="290" width="1" height="1" fill="#c8c8c8" />
<rect x="561" y="310" width="1" height="1" fill="#c8c8c8" />
<rect x="589" y="34" width="1" height="1" fill="#c8c8c8" />
<rect x="589" y="53" width="1" height="1" fill="#c8c8c8" />
<rect x="589" y="73" width="1" height="1" fill="#c8c8c8" />
<rect x="589" y="93" width="1" height="1" fill="#c8c8c8" />
<rect x="589" y="113" width="1" height="1" fill="#c8c8c8" />
<rect x="589" y="132" width="1" height="1" fill="#c8c8c8" />
<rect x="589" y="152" width="1" height="1" fill="#c8c8c8" />
<rect x="589" y="172" width="1" height="1" fill="#c8c8c8" />
<rect x="589" y="192" width="1" height="1" fill="#c8c8c8" />
<rect x="589" y="211" width="1" height="1" fill="#c8c8c8" />
<rect x="589" y="231" width="1" height="1" fill="#c8c8c8" />
<rect x="589" y="251" width="1" height="1" fill="#c8c8c8" />
<rect x="589" y="271" width="1" height="1" fill="#c8c8c8" />
<rect x="589" y="290" width="1" height="1" fill="#c8c8c8" />
<rect x="589" y="310" width="1" height="1" fill="#c8c8c8" />
<line x1="477.5" y1="13" x2="477.5" y2="324" stroke="#d8d8d8" stroke-width="1" stroke-dasharray="1 1"/>
<rect x="812" y="12" width="1" height="397" fill="#505050" />
<text x="813" y="27" font-size="7.6" fill="#000" font-weight="bold" textLength="22.8" lengthAdjust="spacingAndGlyphs" >7000.00</text>
<text x="813" y="46" font-size="7.6" fill="#000" font-weight="bold" textLength="22.8" lengthAdjust="spacingAndGlyphs" >6975.00</text>
<text x="813" y="66" font-size="7.6" fill="#000" font-weight="bold" textLength="22.8" lengthAdjust="spacingAndGlyphs" >6950.00</text>
<text x="813" y="86" font-size="7.6" fill="#000" font-weight="bold" textLength="22.8" lengthAdjust="spacingAndGlyphs" >6925.00</text>
<text x="813" y="106" font-size="7.6" fill="#000" font-weight="bold" textLength="22.8" lengthAdjust="spacingAndGlyphs" >6900.00</text>
<text x="813" y="125" font-size="7.6" fill="#000" font-weight="bold" textLength="22.8" lengthAdjust="spacingAndGlyphs" >6875.00</text>
<text x="813" y="145" font-size="7.6" fill="#000" font-weight="bold" textLength="22.8" lengthAdjust="spacingAndGlyphs" >6850.00</text>
<text x="813" y="165" font-size="7.6" fill="#000" font-weight="bold" textLength="22.8" lengthAdjust="spacingAndGlyphs" >6825.00</text>
<text x="813" y="185" font-size="7.6" fill="#000" font-weight="bold" textLength="22.8" lengthAdjust="spacingAndGlyphs" >6800.00</text>
<text x="813" y="204" font-size="7.6" fill="#000" font-weight="bold" textLength="22.8" lengthAdjust="spacingAndGlyphs" >6775.00</text>
<text x="813" y="224" font-size="7.6" fill="#000" font-weight="bold" textLength="22.8" lengthAdjust="spacingAndGlyphs" >6750.00</text>
<text x="813" y="244" font-size="7.6" fill="#000" font-weight="bold" textLength="22.8" lengthAdjust="spacingAndGlyphs" >6725.00</text>
<text x="813" y="264" font-size="7.6" fill="#000" font-weight="bold" textLength="22.8" lengthAdjust="spacingAndGlyphs" >6700.00</text>
<text x="813" y="283" font-size="7.6" fill="#000" font-weight="bold" textLength="22.8" lengthAdjust="spacingAndGlyphs" >6675.00</text>
<text x="813" y="303" font-size="7.6" fill="#000" font-weight="bold" textLength="22.8" lengthAdjust="spacingAndGlyphs" >6650.00</text>
<text x="813" y="323" font-size="7.6" fill="#000" font-weight="bold" textLength="22.8" lengthAdjust="spacingAndGlyphs" >6625.00</text>
<rect x="813" y="134.6" width="24" height="7.2" fill="#ff2020" />
<text x="813.3" y="141" font-size="7.6" fill="#fff" font-weight="bold" textLength="22.5" lengthAdjust="spacingAndGlyphs" >6855.36</text>
<rect x="813" y="164.8" width="24" height="7.2" fill="#000000" />
<text x="813.3" y="171.2" font-size="7.6" fill="#fff" font-weight="bold" textLength="22.5" lengthAdjust="spacingAndGlyphs" >6817.00</text>
<rect x="413" y="323.5" width="399" height="1.3" fill="#8a8670" />
<line x1="414" y1="222" x2="812" y2="222" stroke="#ff0000" stroke-width="2" />
<rect x="414" y="122.7" width="283.5" height="40.9" fill="#ffff00" />
<rect x="580.9" y="97" width="48.700000000000045" height="10" fill="#00ffff" />
<rect x="555" y="195.8" width="36.299999999999955" height="7.0" fill="#00ffff" />
<rect x="424.8" y="290.2" width="66.69999999999999" height="8.800000000000011" fill="#00ffff" />
<g style="mix-blend-mode:multiply">
<rect x="424" y="293" width="2" height="24" fill="#858585" />
<rect x="426" y="293" width="2" height="24" fill="#858585" />
<rect x="428" y="293" width="2" height="24" fill="#858585" />
<rect x="430" y="274" width="2" height="35" fill="#858585" />
<rect x="432" y="278" width="2" height="21" fill="#858585" />
<rect x="434" y="290" width="2" height="27" fill="#858585" />
<rect x="436" y="290" width="2" height="32" fill="#858585" />
<rect x="438" y="290" width="2" height="27" fill="#858585" />
<rect x="440" y="292" width="2" height="25" fill="#858585" />
<rect x="442" y="300" width="2" height="16" fill="#858585" />
<rect x="448" y="285" width="2" height="31" fill="#858585" />
<rect x="450" y="285" width="2" height="31" fill="#858585" />
<rect x="452" y="270" width="2" height="39" fill="#858585" />
<rect x="454" y="284" width="2" height="22" fill="#858585" />
<rect x="456" y="282" width="2" height="28" fill="#858585" />
<rect x="458" y="282" width="2" height="28" fill="#858585" />
<rect x="460" y="296" width="2" height="18" fill="#858585" />
<rect x="462" y="308" width="2" height="9" fill="#858585" />
<rect x="464" y="308" width="2" height="9" fill="#858585" />
<rect x="466" y="310" width="2" height="7" fill="#858585" />
<rect x="497" y="306" width="2" height="11" fill="#858585" />
<rect x="505" y="269" width="2" height="49" fill="#858585" />
<rect x="507" y="255" width="2" height="23" fill="#858585" />
<rect x="509" y="250" width="2" height="25" fill="#858585" />
<rect x="511" y="245" width="2" height="21" fill="#858585" />
<rect x="513" y="238" width="2" height="24" fill="#858585" />
<rect x="515" y="228" width="2" height="27" fill="#858585" />
<rect x="517" y="215" width="2" height="30" fill="#858585" />
<rect x="519" y="186" width="2" height="46" fill="#858585" />
<rect x="521" y="179" width="2" height="21" fill="#858585" />
<rect x="523" y="170" width="2" height="24" fill="#858585" />
<rect x="525" y="158" width="2" height="32" fill="#858585" />
<rect x="527" y="147" width="2" height="32" fill="#858585" />
<rect x="529" y="130" width="2" height="28" fill="#858585" />
<rect x="531" y="136" width="2" height="22" fill="#858585" />
<rect x="533" y="156" width="2" height="29" fill="#858585" />
<rect x="535" y="157" width="2" height="28" fill="#858585" />
<rect x="537" y="164" width="2" height="20" fill="#858585" />
<rect x="539" y="164" width="2" height="8" fill="#858585" />
<rect x="541" y="150" width="2" height="22" fill="#858585" />
<rect x="543" y="138" width="2" height="12" fill="#858585" />
<rect x="545" y="127" width="2" height="48" fill="#858585" />
<rect x="547" y="120" width="2" height="55" fill="#858585" />
<rect x="549" y="127" width="2" height="24" fill="#858585" />
<rect x="551" y="130" width="2" height="21" fill="#858585" />
<rect x="553" y="130" width="2" height="25" fill="#858585" />
<rect x="555" y="134" width="2" height="21" fill="#858585" />
<rect x="557" y="149" width="2" height="23" fill="#858585" />
<rect x="559" y="128" width="2" height="23" fill="#858585" />
<rect x="561" y="128" width="2" height="44" fill="#858585" />
<rect x="563" y="156" width="2" height="25" fill="#858585" />
<rect x="565" y="156" width="2" height="32" fill="#858585" />
<rect x="567" y="157" width="2" height="31" fill="#858585" />
<rect x="569" y="166" width="2" height="29" fill="#858585" />
<rect x="571" y="166" width="2" height="39" fill="#858585" />
<rect x="573" y="182" width="2" height="29" fill="#858585" />
<rect x="575" y="160" width="2" height="24" fill="#858585" />
<rect x="577" y="160" width="2" height="24" fill="#858585" />
<rect x="579" y="148" width="2" height="34" fill="#858585" />
<rect x="581" y="144" width="2" height="33" fill="#858585" />
<rect x="583" y="145" width="2" height="25" fill="#858585" />
<rect x="585" y="145" width="2" height="21" fill="#858585" />
<rect x="587" y="151" width="2" height="26" fill="#858585" />
<rect x="589" y="160" width="2" height="17" fill="#858585" />
<rect x="591" y="166" width="2" height="10" fill="#858585" />
<rect x="593" y="166" width="2" height="7" fill="#858585" />
<rect x="595" y="150" width="2" height="27" fill="#858585" />
<rect x="597" y="150" width="2" height="27" fill="#858585" />
<rect x="599" y="150" width="2" height="34" fill="#858585" />
<rect x="600" y="120" width="2" height="70" fill="#858585" />
<rect x="603" y="154" width="2" height="22" fill="#858585" />
<rect x="605" y="165" width="2" height="52" fill="#858585" />
<rect x="607" y="165" width="2" height="15" fill="#858585" />
<rect x="609" y="168" width="2" height="7" fill="#858585" />
<line x1="425" y1="301.966400210427" x2="426.6" y2="301.966400210427" stroke="#101010" stroke-width="1.2" />
<line x1="423.4" y1="298.1287117428342" x2="425" y2="298.1287117428342" stroke="#202020" stroke-width="1.2" />
<line x1="427" y1="307.59909162574627" x2="428.6" y2="307.59909162574627" stroke="#101010" stroke-width="1.2" />
<line x1="425.4" y1="296.58554612161726" x2="427" y2="296.58554612161726" stroke="#202020" stroke-width="1.2" />
<line x1="429" y1="305.6178881141612" x2="430.6" y2="305.6178881141612" stroke="#101010" stroke-width="1.2" />
<line x1="427.4" y1="302.3567578848397" x2="429" y2="302.3567578848397" stroke="#202020" stroke-width="1.2" />
<line x1="431" y1="280.77567403330914" x2="432.6" y2="280.77567403330914" stroke="#101010" stroke-width="1.2" />
<line x1="429.4" y1="291.655226236028" x2="431" y2="291.655226236028" stroke="#202020" stroke-width="1.2" />
<line x1="433" y1="281.58356148300624" x2="434.6" y2="281.58356148300624" stroke="#101010" stroke-width="1.2" />
<line x1="431.4" y1="287.2405558308351" x2="433" y2="287.2405558308351" stroke="#202020" stroke-width="1.2" />
<line x1="435" y1="295.429937144511" x2="436.6" y2="295.429937144511" stroke="#101010" stroke-width="1.2" />
<line x1="433.4" y1="294.71117221143004" x2="435" y2="294.71117221143004" stroke="#202020" stroke-width="1.2" />
<line x1="437" y1="304.3092298367923" x2="438.6" y2="304.3092298367923" stroke="#101010" stroke-width="1.2" />
<line x1="435.4" y1="314.3674143916042" x2="437" y2="314.3674143916042" stroke="#202020" stroke-width="1.2" />
<line x1="439" y1="296.46085547756974" x2="440.6" y2="296.46085547756974" stroke="#101010" stroke-width="1.2" />
<line x1="437.4" y1="297.6055389870172" x2="439" y2="297.6055389870172" stroke="#202020" stroke-width="1.2" />
<line x1="441" y1="306.906842368803" x2="442.6" y2="306.906842368803" stroke="#101010" stroke-width="1.2" />
<line x1="439.4" y1="313.7116289953298" x2="441" y2="313.7116289953298" stroke="#202020" stroke-width="1.2" />
<line x1="443" y1="308.86355302451597" x2="444.6" y2="308.86355302451597" stroke="#101010" stroke-width="1.2" />
<line x1="449" y1="298.42966340024526" x2="450.6" y2="298.42966340024526" stroke="#101010" stroke-width="1.2" />
<line x1="447.4" y1="312.3468253933621" x2="449" y2="312.3468253933621" stroke="#202020" stroke-width="1.2" />
<line x1="451" y1="290.9060618064756" x2="452.6" y2="290.9060618064756" stroke="#101010" stroke-width="1.2" />
<line x1="449.4" y1="309.45398535423556" x2="451" y2="309.45398535423556" stroke="#202020" stroke-width="1.2" />
<line x1="453" y1="283.974152316509" x2="454.6" y2="283.974152316509" stroke="#101010" stroke-width="1.2" />
<line x1="451.4" y1="278.72843534740326" x2="453" y2="278.72843534740326" stroke="#202020" stroke-width="1.2" />
<line x1="455" y1="289.16049137973783" x2="456.6" y2="289.16049137973783" stroke="#101010" stroke-width="1.2" />
<line x1="453.4" y1="291.69863719605036" x2="455" y2="291.69863719605036" stroke="#202020" stroke-width="1.2" />
<line x1="457" y1="302.0845920193062" x2="458.6" y2="302.0845920193062" stroke="#101010" stroke-width="1.2" />
<line x1="455.4" y1="288.54610335187186" x2="457" y2="288.54610335187186" stroke="#202020" stroke-width="1.2" />
<line x1="459" y1="297.4222112536098" x2="460.6" y2="297.4222112536098" stroke="#101010" stroke-width="1.2" />
<line x1="457.4" y1="298.95611401400294" x2="459" y2="298.95611401400294" stroke="#202020" stroke-width="1.2" />
<line x1="461" y1="303.4636664144178" x2="462.6" y2="303.4636664144178" stroke="#101010" stroke-width="1.2" />
<line x1="459.4" y1="305.6569638481635" x2="461" y2="305.6569638481635" stroke="#202020" stroke-width="1.2" />
<line x1="463" y1="309.400732368317" x2="464.6" y2="309.400732368317" stroke="#101010" stroke-width="1.2" />
<line x1="465" y1="309.37886402596837" x2="466.6" y2="309.37886402596837" stroke="#101010" stroke-width="1.2" />
<line x1="467" y1="312.14744902250675" x2="468.6" y2="312.14744902250675" stroke="#101010" stroke-width="1.2" />
<line x1="498.5" y1="312.7011957991316" x2="500.1" y2="312.7011957991316" stroke="#101010" stroke-width="1.2" />
<line x1="506.5" y1="291.0164160844605" x2="508.1" y2="291.0164160844605" stroke="#101010" stroke-width="1.2" />
<line x1="504.9" y1="286.21456907877024" x2="506.5" y2="286.21456907877024" stroke="#202020" stroke-width="1.2" />
<line x1="508.5" y1="267.87754600247297" x2="510.1" y2="267.87754600247297" stroke="#101010" stroke-width="1.2" />
<line x1="506.9" y1="265.6385925252223" x2="508.5" y2="265.6385925252223" stroke="#202020" stroke-width="1.2" />
<line x1="510.5" y1="258.99592244511445" x2="512.1" y2="258.99592244511445" stroke="#101010" stroke-width="1.2" />
<line x1="508.9" y1="268.38758963044984" x2="510.5" y2="268.38758963044984" stroke="#202020" stroke-width="1.2" />
<line x1="512.5" y1="258.4252181758247" x2="514.1" y2="258.4252181758247" stroke="#101010" stroke-width="1.2" />
<line x1="510.9" y1="251.20082138013217" x2="512.5" y2="251.20082138013217" stroke="#202020" stroke-width="1.2" />
<line x1="514.5" y1="251.25031833234567" x2="516.1" y2="251.25031833234567" stroke="#101010" stroke-width="1.2" />
<line x1="512.9" y1="250.48377287317987" x2="514.5" y2="250.48377287317987" stroke="#202020" stroke-width="1.2" />
<line x1="516.5" y1="248.5900986663378" x2="518.1" y2="248.5900986663378" stroke="#101010" stroke-width="1.2" />
<line x1="514.9" y1="246.4560182518871" x2="516.5" y2="246.4560182518871" stroke="#202020" stroke-width="1.2" />
<line x1="518.5" y1="225.54669306269392" x2="520.1" y2="225.54669306269392" stroke="#101010" stroke-width="1.2" />
<line x1="516.9" y1="241.52419633982197" x2="518.5" y2="241.52419633982197" stroke="#202020" stroke-width="1.2" />
<line x1="520.5" y1="196.7017180598098" x2="522.1" y2="196.7017180598098" stroke="#101010" stroke-width="1.2" />
<line x1="518.9" y1="205.98691984169636" x2="520.5" y2="205.98691984169636" stroke="#202020" stroke-width="1.2" />
<line x1="522.5" y1="193.18397125981787" x2="524.1" y2="193.18397125981787" stroke="#101010" stroke-width="1.2" />
<line x1="520.9" y1="183.419816470615" x2="522.5" y2="183.419816470615" stroke="#202020" stroke-width="1.2" />
<line x1="524.5" y1="181.96689783689362" x2="526.1" y2="181.96689783689362" stroke="#101010" stroke-width="1.2" />
<line x1="522.9" y1="173.41336959361942" x2="524.5" y2="173.41336959361942" stroke="#202020" stroke-width="1.2" />
<line x1="526.5" y1="177.76803518637044" x2="528.1" y2="177.76803518637044" stroke="#101010" stroke-width="1.2" />
<line x1="524.9" y1="180.77301417504802" x2="526.5" y2="180.77301417504802" stroke="#202020" stroke-width="1.2" />
<line x1="528.5" y1="164.47044561475514" x2="530.1" y2="164.47044561475514" stroke="#101010" stroke-width="1.2" />
<line x1="526.9" y1="172.3721173080313" x2="528.5" y2="172.3721173080313" stroke="#202020" stroke-width="1.2" />
<line x1="530.5" y1="140.09730055542016" x2="532.1" y2="140.09730055542016" stroke="#101010" stroke-width="1.2" />
<line x1="528.9" y1="148.23711072173754" x2="530.5" y2="148.23711072173754" stroke="#202020" stroke-width="1.2" />
<line x1="532.5" y1="148.32311378160932" x2="534.1" y2="148.32311378160932" stroke="#101010" stroke-width="1.2" />
<line x1="530.9" y1="148.27533044439966" x2="532.5" y2="148.27533044439966" stroke="#202020" stroke-width="1.2" />
<line x1="534.5" y1="169.47016510584538" x2="536.1" y2="169.47016510584538" stroke="#101010" stroke-width="1.2" />
<line x1="532.9" y1="178.15566024056795" x2="534.5" y2="178.15566024056795" stroke="#202020" stroke-width="1.2" />
<line x1="536.5" y1="179.47236643414288" x2="538.1" y2="179.47236643414288" stroke="#101010" stroke-width="1.2" />
<line x1="534.9" y1="170.2760191572193" x2="536.5" y2="170.2760191572193" stroke="#202020" stroke-width="1.2" />
<line x1="538.5" y1="176.0366402222622" x2="540.1" y2="176.0366402222622" stroke="#101010" stroke-width="1.2" />
<line x1="536.9" y1="166.75585728734774" x2="538.5" y2="166.75585728734774" stroke="#202020" stroke-width="1.2" />
<line x1="540.5" y1="168.92835531930479" x2="542.1" y2="168.92835531930479" stroke="#101010" stroke-width="1.2" />
<line x1="542.5" y1="163.14518632009222" x2="544.1" y2="163.14518632009222" stroke="#101010" stroke-width="1.2" />
<line x1="540.9" y1="169.4995931842981" x2="542.5" y2="169.4995931842981" stroke="#202020" stroke-width="1.2" />
<line x1="544.5" y1="146.7041682075216" x2="546.1" y2="146.7041682075216" stroke="#101010" stroke-width="1.2" />
<line x1="546.5" y1="143.62748819111684" x2="548.1" y2="143.62748819111684" stroke="#101010" stroke-width="1.2" />
<line x1="544.9" y1="146.47352807455798" x2="546.5" y2="146.47352807455798" stroke="#202020" stroke-width="1.2" />
<line x1="548.5" y1="153.98410111098178" x2="550.1" y2="153.98410111098178" stroke="#101010" stroke-width="1.2" />
<line x1="546.9" y1="126.73374366322366" x2="548.5" y2="126.73374366322366" stroke="#202020" stroke-width="1.2" />
<line x1="550.5" y1="138.56720612967214" x2="552.1" y2="138.56720612967214" stroke="#101010" stroke-width="1.2" />
<line x1="548.9" y1="132.93275339375558" x2="550.5" y2="132.93275339375558" stroke="#202020" stroke-width="1.2" />
<line x1="552.5" y1="134.56409500133634" x2="554.1" y2="134.56409500133634" stroke="#101010" stroke-width="1.2" />
<line x1="550.9" y1="132.74929965895203" x2="552.5" y2="132.74929965895203" stroke="#202020" stroke-width="1.2" />
<line x1="554.5" y1="147.06918253504142" x2="556.1" y2="147.06918253504142" stroke="#101010" stroke-width="1.2" />
<line x1="552.9" y1="134.76819331141965" x2="554.5" y2="134.76819331141965" stroke="#202020" stroke-width="1.2" />
<line x1="556.5" y1="140.45160324713856" x2="558.1" y2="140.45160324713856" stroke="#101010" stroke-width="1.2" />
<line x1="554.9" y1="142.3743348938915" x2="556.5" y2="142.3743348938915" stroke="#202020" stroke-width="1.2" />
<line x1="558.5" y1="166.32789470705575" x2="560.1" y2="166.32789470705575" stroke="#101010" stroke-width="1.2" />
<line x1="556.9" y1="152.74980293389052" x2="558.5" y2="152.74980293389052" stroke="#202020" stroke-width="1.2" />
<line x1="560.5" y1="138.46768962755004" x2="562.1" y2="138.46768962755004" stroke="#101010" stroke-width="1.2" />
<line x1="558.9" y1="140.2255150991764" x2="560.5" y2="140.2255150991764" stroke="#202020" stroke-width="1.2" />
<line x1="562.5" y1="161.71556932580222" x2="564.1" y2="161.71556932580222" stroke="#101010" stroke-width="1.2" />
<line x1="560.9" y1="161.14081983992554" x2="562.5" y2="161.14081983992554" stroke="#202020" stroke-width="1.2" />
<line x1="564.5" y1="174.869728219724" x2="566.1" y2="174.869728219724" stroke="#101010" stroke-width="1.2" />
<line x1="562.9" y1="164.06842129027794" x2="564.5" y2="164.06842129027794" stroke="#202020" stroke-width="1.2" />
<line x1="566.5" y1="170.4907834979517" x2="568.1" y2="170.4907834979517" stroke="#101010" stroke-width="1.2" />
<line x1="564.9" y1="168.76194521894266" x2="566.5" y2="168.76194521894266" stroke="#202020" stroke-width="1.2" />
<line x1="568.5" y1="181.3138778481052" x2="570.1" y2="181.3138778481052" stroke="#101010" stroke-width="1.2" />
<line x1="566.9" y1="184.3383523546241" x2="568.5" y2="184.3383523546241" stroke="#202020" stroke-width="1.2" />
<line x1="570.5" y1="173.4136943875595" x2="572.1" y2="173.4136943875595" stroke="#101010" stroke-width="1.2" />
<line x1="568.9" y1="172.9882513009766" x2="570.5" y2="172.9882513009766" stroke="#202020" stroke-width="1.2" />
<line x1="572.5" y1="178.18242246417333" x2="574.1" y2="178.18242246417333" stroke="#101010" stroke-width="1.2" />
<line x1="570.9" y1="177.18008581084285" x2="572.5" y2="177.18008581084285" stroke="#202020" stroke-width="1.2" />
<line x1="574.5" y1="196.39053299042513" x2="576.1" y2="196.39053299042513" stroke="#101010" stroke-width="1.2" />
<line x1="572.9" y1="198.79618480778265" x2="574.5" y2="198.79618480778265" stroke="#202020" stroke-width="1.2" />
<line x1="576.5" y1="168.28057415081184" x2="578.1" y2="168.28057415081184" stroke="#101010" stroke-width="1.2" />
<line x1="574.9" y1="162.83728723191" x2="576.5" y2="162.83728723191" stroke="#202020" stroke-width="1.2" />
<line x1="578.5" y1="170.8609961985904" x2="580.1" y2="170.8609961985904" stroke="#101010" stroke-width="1.2" />
<line x1="576.9" y1="169.73150745625242" x2="578.5" y2="169.73150745625242" stroke="#202020" stroke-width="1.2" />
<line x1="580.5" y1="166.80570169591488" x2="582.1" y2="166.80570169591488" stroke="#101010" stroke-width="1.2" />
<line x1="578.9" y1="177.39302440407255" x2="580.5" y2="177.39302440407255" stroke="#202020" stroke-width="1.2" />
<line x1="582.5" y1="165.3004034798411" x2="584.1" y2="165.3004034798411" stroke="#101010" stroke-width="1.2" />
<line x1="580.9" y1="161.30897383306856" x2="582.5" y2="161.30897383306856" stroke="#202020" stroke-width="1.2" />
<line x1="584.5" y1="159.43256759203564" x2="586.1" y2="159.43256759203564" stroke="#101010" stroke-width="1.2" />
<line x1="582.9" y1="160.9162896687779" x2="584.5" y2="160.9162896687779" stroke="#202020" stroke-width="1.2" />
<line x1="586.5" y1="148.7000340379667" x2="588.1" y2="148.7000340379667" stroke="#101010" stroke-width="1.2" />
<line x1="584.9" y1="162.1580424913875" x2="586.5" y2="162.1580424913875" stroke="#202020" stroke-width="1.2" />
<line x1="588.5" y1="169.2826297812965" x2="590.1" y2="169.2826297812965" stroke="#101010" stroke-width="1.2" />
<line x1="586.9" y1="172.04960161311243" x2="588.5" y2="172.04960161311243" stroke="#202020" stroke-width="1.2" />
<line x1="590.5" y1="172.32809461617418" x2="592.1" y2="172.32809461617418" stroke="#101010" stroke-width="1.2" />
<line x1="588.9" y1="167.20191438392646" x2="590.5" y2="167.20191438392646" stroke="#202020" stroke-width="1.2" />
<line x1="592.5" y1="170.6499233079795" x2="594.1" y2="170.6499233079795" stroke="#101010" stroke-width="1.2" />
<line x1="594.5" y1="167.8683413729417" x2="596.1" y2="167.8683413729417" stroke="#101010" stroke-width="1.2" />
<line x1="596.5" y1="166.27567386985191" x2="598.1" y2="166.27567386985191" stroke="#101010" stroke-width="1.2" />
<line x1="594.9" y1="154.10447224988164" x2="596.5" y2="154.10447224988164" stroke="#202020" stroke-width="1.2" />
<line x1="598.5" y1="155.40172727186922" x2="600.1" y2="155.40172727186922" stroke="#101010" stroke-width="1.2" />
<line x1="596.9" y1="157.31608902497993" x2="598.5" y2="157.31608902497993" stroke="#202020" stroke-width="1.2" />
<line x1="600.5" y1="158.96281586897592" x2="602.1" y2="158.96281586897592" stroke="#101010" stroke-width="1.2" />
<line x1="598.9" y1="162.64945934071974" x2="600.5" y2="162.64945934071974" stroke="#202020" stroke-width="1.2" />
<line x1="601" y1="132.9948848828954" x2="602.6" y2="132.9948848828954" stroke="#101010" stroke-width="1.2" />
<line x1="599.4" y1="126.92308244902809" x2="601" y2="126.92308244902809" stroke="#202020" stroke-width="1.2" />
<line x1="603.5" y1="159.6294799571032" x2="605.1" y2="159.6294799571032" stroke="#101010" stroke-width="1.2" />
<line x1="601.9" y1="157.9857728771977" x2="603.5" y2="157.9857728771977" stroke="#202020" stroke-width="1.2" />
<line x1="605.5" y1="185.79494846751595" x2="607.1" y2="185.79494846751595" stroke="#101010" stroke-width="1.2" />
<line x1="603.9" y1="171.0487968143784" x2="605.5" y2="171.0487968143784" stroke="#202020" stroke-width="1.2" />
<line x1="607.5" y1="176.4304899624251" x2="609.1" y2="176.4304899624251" stroke="#101010" stroke-width="1.2" />
<line x1="609.5" y1="172.05893804016355" x2="611.1" y2="172.05893804016355" stroke="#101010" stroke-width="1.2" />
</g>
<line x1="462.8" y1="122.7" x2="462.8" y2="163.6" stroke="#000" stroke-width="1.6" />
<line x1="573.7" y1="138" x2="573.7" y2="163" stroke="#fffff0" stroke-width="1" />
<rect x="581" y="102.5" width="6" height="4.5" fill="#000" />
<line x1="609.3" y1="97" x2="609.3" y2="107" stroke="#000" stroke-width="1.4" />
<line x1="585.4" y1="195.8" x2="585.4" y2="203" stroke="#000" stroke-width="1.4" />
<line x1="445.6" y1="290.2" x2="445.6" y2="299" stroke="#000" stroke-width="1.4" />
<line x1="463.2" y1="290.2" x2="463.2" y2="299" stroke="#000" stroke-width="1.4" />
<rect x="425" y="295" width="6" height="3.7" fill="#000" />
<line x1="642" y1="36.3" x2="668.5" y2="36.3" stroke="#004d00" stroke-width="1.8" />
<line x1="642" y1="70" x2="668.6" y2="70" stroke="#004d00" stroke-width="1.8" />
<line x1="530.8" y1="131.8" x2="555" y2="131.8" stroke="#004d00" stroke-width="1.8" />
<line x1="561.6" y1="139" x2="614.6" y2="139" stroke="#004d00" stroke-width="1.8" />
<line x1="559.5" y1="170.2" x2="614.6" y2="170.2" stroke="#004d00" stroke-width="1.8" />
<line x1="530.6" y1="255.4" x2="556" y2="255.4" stroke="#004d00" stroke-width="1.8" />
<line x1="560.6" y1="203.4" x2="614.4" y2="203.4" stroke="#004d00" stroke-width="1.8" />
<line x1="555" y1="131.8" x2="557" y2="134" stroke="#004d00" stroke-width="1.4" />
<line x1="661.2" y1="70" x2="534.3" y2="318" stroke="#004d00" stroke-width="1.8" />
<line x1="432.1" y1="310.3" x2="453.8" y2="269.2" stroke="#004d00" stroke-width="1.6" />
<line x1="574.3" y1="137.3" x2="607.9" y2="137.3" stroke="#ff0000" stroke-width="1.4" />
<ellipse cx="589.3" cy="212.6" rx="7.8" ry="7.3" fill="#00ffff" stroke="#000" stroke-width="1.3"/>
<line x1="661.2" y1="70" x2="534.3" y2="318" stroke="#004d00" stroke-width="1.8" />
<polyline points="519.7,324 519.7,307 521,307 521,290.6 523.3,290.6 523.3,277.9 525.5,277.9 525.5,266.5 527,266.5 527,256.4 530,256.4 530,241.3 531.7,241.3 531.7,232.4 535.7,232.4 535.7,201.7 543.6,201.7 543.6,189.8 548.7,189.8 548.7,188 551.5,188 551.5,184.2 571.5,184.2" fill="none" stroke="#3030ff" stroke-width="1.5" />
<polyline points="474.5,293.6 476.7,295 476.7,316 479,318 479,324" fill="none" stroke="#ff3030" stroke-width="1.3" />
<line x1="683.1" y1="168.4" x2="622.3" y2="138.8" stroke="#ff1010" stroke-width="1.4" />
<line x1="622.3" y1="138.8" x2="638.2" y2="139.2" stroke="#ff1010" stroke-width="1.4" />
<line x1="622.3" y1="138.8" x2="632.9" y2="150.3" stroke="#ff1010" stroke-width="1.4" />
<line x1="683.1" y1="168.4" x2="618.8" y2="170.2" stroke="#ff1010" stroke-width="1.4" />
<line x1="618.8" y1="170.2" x2="632.9" y2="163.5" stroke="#ff1010" stroke-width="1.4" />
<line x1="618.8" y1="170.2" x2="632.9" y2="176.7" stroke="#ff1010" stroke-width="1.4" />
<line x1="683.1" y1="168.4" x2="624.4" y2="202.6" stroke="#ff1010" stroke-width="1.4" />
<line x1="624.4" y1="202.6" x2="640" y2="201.4" stroke="#ff1010" stroke-width="1.4" />
<line x1="624.4" y1="202.6" x2="633.8" y2="190.8" stroke="#ff1010" stroke-width="1.4" />
<text x="530.5" y="121" font-size="6.3" fill="#0000ff" font-weight="normal" text-anchor="middle" >3</text>
<text x="530.5" y="127.5" font-size="6.3" fill="#0000ff" font-weight="normal" text-anchor="middle" >v</text>
<text x="548.5" y="118.5" font-size="6.3" fill="#0000ff" font-weight="normal" text-anchor="middle" >5</text>
<text x="562.5" y="127" font-size="6.3" fill="#ff0000" font-weight="normal" text-anchor="middle" >B</text>
<text x="526" y="160" font-size="6.3" fill="#4040e0" font-weight="bold" text-anchor="middle" >iii</text>
<text x="549" y="182" font-size="6.3" fill="#ff0000" font-weight="normal" text-anchor="middle" >A</text>
<text x="529" y="187" font-size="6.3" fill="#4040ff" font-weight="normal" text-anchor="middle" >iv</text>
<circle cx="548.9" cy="95.5" r="3.75" fill="#0000ff"/>
<text x="548.9" y="97.6" font-size="6.2" fill="#ffffff" font-weight="bold" text-anchor="middle" >3</text>
<circle cx="601" cy="114.3" r="3.75" fill="#0000ff"/>
<text x="601" y="116.39999999999999" font-size="6.2" fill="#ffffff" font-weight="bold" text-anchor="middle" >5</text>
<text x="604.8" y="56.5" font-size="5.5" fill="#0000ff" font-weight="normal" text-anchor="middle" >-5-</text>
<text x="575" y="218.6" font-size="6.3" fill="#ff0000" font-weight="normal" text-anchor="middle" >C</text>
<circle cx="574.7" cy="224" r="3.75" fill="#0000ff"/>
<text x="574.7" y="226.1" font-size="6.2" fill="#ffffff" font-weight="bold" text-anchor="middle" >4</text>
<text x="509" y="244" font-size="6.3" fill="#0000ff" font-weight="normal" text-anchor="middle" >1</text>
<text x="514" y="241" font-size="6.3" fill="#6060ff" font-weight="normal" text-anchor="middle" >i</text>
<text x="511" y="279.5" font-size="6.3" fill="#0000ff" font-weight="normal" text-anchor="middle" >2</text>
<text x="517" y="262" font-size="6.3" fill="#4040ff" font-weight="bold" text-anchor="middle" >iii</text>
<circle cx="498.8" cy="300.3" r="3.75" fill="#0000ff"/>
<text x="498.8" y="302.40000000000003" font-size="6.2" fill="#ffffff" font-weight="bold" text-anchor="middle" >1</text>
<line x1="496.5" y1="306.1" x2="502" y2="306.1" stroke="#ff0000" stroke-width="1.5" />
<circle cx="457" cy="314.2" r="3.75" fill="#0000ff"/>
<text x="457" y="316.3" font-size="6.2" fill="#ffffff" font-weight="bold" text-anchor="middle" >1</text>
<text x="431" y="271.7" font-size="6.3" fill="#0000ff" font-weight="normal" text-anchor="middle" >3</text>
<text x="452.5" y="268.2" font-size="6.3" fill="#0000ff" font-weight="normal" text-anchor="middle" >5</text>
<circle cx="452.9" cy="258.6" r="4" fill="#0000ff"/>
<text x="452.9" y="260.70000000000005" font-size="6.2" fill="#ffffff" font-weight="bold" text-anchor="middle" >5</text>
<circle cx="458.8" cy="276.7" r="3.75" fill="#0000ff"/>
<text x="458.8" y="278.8" font-size="6.2" fill="#ffffff" font-weight="bold" text-anchor="middle" >2</text>
<text x="447.7" y="253.9" font-size="13.5" fill="#000" font-weight="bold" text-anchor="middle" >A</text>
<text x="661.7" y="52.7" font-size="12" fill="#000" font-weight="bold" text-anchor="middle" >C</text>
<line x1="413" y1="317.2" x2="452" y2="317.2" stroke="#e0ddd0" stroke-width="1" />
<rect x="414.5" y="310.5" width="6" height="6.3" fill="#f4f4f0" stroke="#c0c0c0" stroke-width="0.5"/>
<text x="417.5" y="315.9" font-size="6" fill="#000" font-weight="bold" text-anchor="middle" >?</text>
<rect x="421" y="310.8" width="12.5" height="6" fill="#a8a8e0" stroke="#8080a0" stroke-width="0.6"/>
<text x="427.2" y="316.3" font-size="6.5" fill="#7070b0" font-weight="normal" text-anchor="middle" >TDR</text>
<text x="415" y="322.3" font-size="4.6" fill="#000" font-weight="normal" textLength="48" lengthAdjust="spacingAndGlyphs" >Copyright © 2007 eSignal.</text>
<text x="456" y="323" font-size="7.3" fill="#0000ff" font-weight="bold" textLength="31" lengthAdjust="spacingAndGlyphs" >O: 6801.00</text>
<text x="493" y="323" font-size="7.3" fill="#0000ff" font-weight="bold" textLength="31" lengthAdjust="spacingAndGlyphs" >H: 6821.00</text>
<text x="529.7" y="323" font-size="7.3" fill="#0000ff" font-weight="bold" textLength="31" lengthAdjust="spacingAndGlyphs" >L: 6801.00</text>
<text x="566.5" y="323" font-size="7.3" fill="#0000ff" font-weight="bold" textLength="31.5" lengthAdjust="spacingAndGlyphs" >C: 6817.00</text>
<text x="603.5" y="323" font-size="7.3" fill="#0000ff" font-weight="bold" textLength="30.5" lengthAdjust="spacingAndGlyphs" >Net: 11.50</text>
<text x="639.6" y="323" font-size="7.3" fill="#0000ff" font-weight="bold" textLength="27.4" lengthAdjust="spacingAndGlyphs" >Net%: 0.2</text>
<line x1="581" y1="312.5" x2="597" y2="312.5" stroke="#c0c0c0" stroke-width="1" />
<text x="598.3" y="312.9" font-size="6.6" fill="#b0b0b0" font-weight="normal" textLength="48.3" lengthAdjust="spacingAndGlyphs" >0.618 (6834.183)</text>
<text x="611.2" y="317.6" font-size="8" fill="#22dd22" font-weight="bold" textLength="23.6" lengthAdjust="spacingAndGlyphs" >169.65</text>
<line x1="414" y1="352.0" x2="811" y2="352.0" stroke="#dadada" stroke-width="1" stroke-dasharray="1 1"/>
<line x1="414" y1="382.0" x2="811" y2="382.0" stroke="#dadada" stroke-width="1" stroke-dasharray="1 1"/>
<rect x="421" y="338" width="1" height="1" fill="#c8c8c8" />
<rect x="421" y="367" width="1" height="1" fill="#c8c8c8" />
<rect x="421" y="396" width="1" height="1" fill="#c8c8c8" />
<rect x="449" y="338" width="1" height="1" fill="#c8c8c8" />
<rect x="449" y="367" width="1" height="1" fill="#c8c8c8" />
<rect x="449" y="396" width="1" height="1" fill="#c8c8c8" />
<rect x="505" y="338" width="1" height="1" fill="#c8c8c8" />
<rect x="505" y="367" width="1" height="1" fill="#c8c8c8" />
<rect x="505" y="396" width="1" height="1" fill="#c8c8c8" />
<rect x="533" y="338" width="1" height="1" fill="#c8c8c8" />
<rect x="533" y="367" width="1" height="1" fill="#c8c8c8" />
<rect x="533" y="396" width="1" height="1" fill="#c8c8c8" />
<rect x="561" y="338" width="1" height="1" fill="#c8c8c8" />
<rect x="561" y="367" width="1" height="1" fill="#c8c8c8" />
<rect x="561" y="396" width="1" height="1" fill="#c8c8c8" />
<rect x="589" y="338" width="1" height="1" fill="#c8c8c8" />
<rect x="589" y="367" width="1" height="1" fill="#c8c8c8" />
<rect x="589" y="396" width="1" height="1" fill="#c8c8c8" />
<text x="414.7" y="333.4" font-size="8.6" fill="#000" font-weight="bold" textLength="66.8" lengthAdjust="spacingAndGlyphs" >MultiOSC(5-17,All,All)</text>
<polygon points="413.5,355.9 418.3,358.5 426.2,361 430.2,358.5 436.8,351.9 441.4,348.2 444.7,348.6 450,351.2 456.6,353.2 467.8,356.5 471.1,359.8 475.1,366.4 479,373 483,382.3 413.5,382.3" fill="#80c080" />
<polygon points="426.2,382.3 426.2,370 432.8,365.1 439.4,370.4 443,372 450,380 455,380 460,382.3" fill="#ff8080" />
<polygon points="443,372 448,368 456.6,367.1 462,371 468.5,375.7 472.4,381 473,382.3 460,382.3 455,379.6 448,379.6" fill="#8080ff" />
<polygon points="413.5,376.5 417,377 418,382.3 413.5,382.3" fill="#8080ff" />
<polygon points="413.5,382.3 423.6,382.3 423.6,386 421,390 413.5,390" fill="#ff8080" />
<polygon points="470,382.3 496,382.3 499,384 495,392 490,397 486,400.5 480,400.5 476,395 472,390" fill="#ff8080" />
<polygon points="487,386 494,382.3 500,382.3 496,390 490,398 486,399" fill="#8080ff" />
<polygon points="493,382.3 498.9,377 508.1,370.4 513,366.4 515.3,357 523.2,354.4 531.1,352.4 535.1,354.4 536.4,363 540.4,369.6 541.7,372.2 549.6,374.2 556.2,376.9 562.8,379.5 566.7,382.3" fill="#ff8080" />
<polygon points="510,365.6 516,357 519.9,352.4 523.2,345.8 527.2,336.6 530.5,331.3 533.8,330.6 537.7,332 541.7,342.5 549.6,344.5 556.2,349.1 561.5,352.4 565.5,360.3 569.4,369.6 572.1,374.9 573.4,382.3 566.7,382.3 562.8,379.5 556.2,376.9 549.6,374.2 541.7,372.2 540.4,369.6 536.4,363 535.1,354.4 531.1,352.4 523.2,354.4 515.3,357" fill="#8080ff" />
<polygon points="537.7,332 537.7,330.6 544.3,329.7 549.6,331.3 553.6,333.3 562.8,335.2 568.1,339.2 572.1,344.5 577.4,349.8 581.3,351.8 589.3,353.7 602.5,356.4 607.8,359.7 607.8,382.3 573.4,382.3 572.1,374.9 569.4,369.6 565.5,360.3 561.5,352.4 556.2,349.1 549.6,344.5 541.7,342.5" fill="#80c080" />
<polygon points="566.7,382.3 583.7,382.3 583.7,385.1 581.1,389.1 573.2,389.1 570.6,385.1" fill="#ff8080" />
<polygon points="588,381.5 592,378 596,381.5 600,380 604,381.5 607.8,380 607.8,382.3 588,382.3" fill="#ff8080" />
<polygon points="599,383 607.8,382.5 607.8,385 603,385" fill="#8080ff" />
<polyline points="414.3,358.5 421,360.5 426.2,360.5 439.4,359.8 452.6,359.2 468.5,359.6 475.1,361.8 481.7,363.8 492.3,363.5 505.5,363.8 510,365.6 523.2,367 536.4,360.3 549.6,355.1 562.8,351.1 576.1,350.8 589.3,353.7 607.8,356.4" fill="none" stroke="#22ee22" stroke-width="1.25" />
<polyline points="414.3,363.8 426.2,367.1 439.4,369.7 452.6,370.4 465.8,371.7 476.4,373.7 492.3,373.7 505.5,374.6 510,373.6 523.2,370.9 536.4,363 549.6,358.4 556.2,357.7 566.8,359.7 574.7,363 582.7,363.4 594.5,368 607.8,368" fill="none" stroke="#000080" stroke-width="1.25" />
<polyline points="414.3,369.3 426.2,369.7 439.4,370.4 452.6,372.4 465.8,374.1 492.3,375 510,374.6 523.2,372.2 536.4,368.3 549.6,370.9 562.8,372.5 576.1,373.3 589.3,374.2 607.8,375.9" fill="none" stroke="#ff00ff" stroke-width="1.25" />
<polyline points="414.3,390 426.2,389.1 452.6,388.9 479,388.9 492.3,390 513,389.5 566.7,389.7 573.2,388.8 583.7,388.4 607.4,388.4" fill="none" stroke="#ff00ff" stroke-width="1.25" />
<polyline points="414.3,395.5 452.6,395.2 481.7,395.2 492.3,392.8 513,390.9 607.4,391.4" fill="none" stroke="#22ee22" stroke-width="1.25" />
<polyline points="414.3,396.8 422,396" fill="none" stroke="#000080" stroke-width="1.25" />
<polyline points="475,394.8 487,394.2 498.9,392.2 513,392.2 575.9,393 583.7,391.7 607.4,389.1" fill="none" stroke="#4040a0" stroke-width="1.25" />
<rect x="813" y="346.2" width="24" height="6.6" fill="#c0c0c0" />
<text x="813.5" y="352.4" font-size="7.6" fill="#000" font-weight="bold" textLength="21.5" lengthAdjust="spacingAndGlyphs" >106.84</text>
<rect x="813" y="353.5" width="16.5" height="6" fill="#22ee22" />
<text x="813.5" y="359.4" font-size="7.6" fill="#fff" font-weight="bold" textLength="15" lengthAdjust="spacingAndGlyphs" >85.39</text>
<rect x="813" y="359.4" width="16.5" height="4.2" fill="#006000" />
<rect x="813" y="364.3" width="16.5" height="6.7" fill="#101070" />
<text x="813.5" y="370.6" font-size="7.6" fill="#fff" font-weight="bold" textLength="15" lengthAdjust="spacingAndGlyphs" >47.98</text>
<rect x="813" y="372.4" width="16.5" height="6.6" fill="#ff00ff" />
<text x="813.5" y="378.7" font-size="7.6" fill="#fff" font-weight="bold" textLength="15" lengthAdjust="spacingAndGlyphs" >21.05</text>
<rect x="813" y="380.6" width="16" height="4" fill="#ff0000" />
<text x="815" y="384.5" font-size="7.6" fill="#fff" font-weight="bold" textLength="13" lengthAdjust="spacingAndGlyphs" >-7.57</text>
<rect x="813" y="384.5" width="18" height="3" fill="#8000ff" />
<rect x="813" y="387.2" width="18" height="7.2" fill="#22ee22" />
<text x="813.3" y="393.8" font-size="7.6" fill="#fff" font-weight="bold" textLength="17.5" lengthAdjust="spacingAndGlyphs" >-28.79</text>
<rect x="413" y="408" width="399" height="1" fill="#404040" />
<rect x="413" y="409" width="399" height="6.8" fill="#ece9d8" />
<rect x="811.2" y="408" width="1" height="8" fill="#404040" />
<rect x="482.7" y="400" width="30.599999999999966" height="6.800000000000011" fill="#ece9d8" />
<line x1="512.8" y1="400" x2="512.8" y2="406.8" stroke="#a09c90" stroke-width="1" />
<text x="498.0" y="405.2" font-size="6" fill="#000" font-weight="normal" text-anchor="middle" >OneBand</text>
<rect x="517.8" y="400" width="18.800000000000068" height="6.800000000000011" fill="#ece9d8" />
<line x1="536.1" y1="400" x2="536.1" y2="406.8" stroke="#a09c90" stroke-width="1" />
<text x="527.2" y="405.2" font-size="6" fill="#000" font-weight="normal" text-anchor="middle" >10-70</text>
<rect x="537.8" y="400" width="14.600000000000023" height="6.800000000000011" fill="#ece9d8" />
<line x1="551.9" y1="400" x2="551.9" y2="406.8" stroke="#a09c90" stroke-width="1" />
<text x="545.0999999999999" y="405.2" font-size="6" fill="#000" font-weight="normal" text-anchor="middle" >5-35</text>
<rect x="556.6" y="400" width="27.600000000000023" height="6.800000000000011" fill="#ece9d8" />
<line x1="583.7" y1="400" x2="583.7" y2="406.8" stroke="#a09c90" stroke-width="1" />
<text x="570.4000000000001" y="405.2" font-size="6" fill="#000" font-weight="normal" text-anchor="middle" >OneOsc</text>
<rect x="414" y="409.3" width="7.5" height="6.3" fill="#ece9d8" stroke="#a09c90" stroke-width="0.6"/>
<polygon points="419.5,410.8 419.5,414.4 416.8,412.6" fill="#000"/>
<rect x="422.3" y="409.3" width="7.5" height="6.3" fill="#ece9d8" stroke="#a09c90" stroke-width="0.6"/>
<polygon points="425.5,410.8 425.5,414.4 428.2,412.6" fill="#000"/>
<polygon points="432,409 469,409 471,415.7 434,415.7" fill="#ece9d8" stroke="#303030" stroke-width="0.6"/>
<text x="451.5" y="414.8" font-size="6.5" fill="#000" font-weight="normal" textLength="32" lengthAdjust="spacingAndGlyphs" text-anchor="middle" >Futures Live</text>
<polygon points="469.5,409 535,409 537,415.7 471.5,415.7" fill="#ece9d8" stroke="#303030" stroke-width="0.6"/>
<text x="503.25" y="414.8" font-size="6.5" fill="#000" font-weight="normal" textLength="60.5" lengthAdjust="spacingAndGlyphs" text-anchor="middle" >MESA Dominant Cycle(C)</text>
<polygon points="535.5,409 591.5,409 593.5,415.7 537.5,415.7" fill="#ffffff" stroke="#303030" stroke-width="0.6"/>
<text x="564.5" y="414.8" font-size="6.5" fill="#000" font-weight="normal" textLength="51.0" lengthAdjust="spacingAndGlyphs" text-anchor="middle" >MultiOSC(5-17,All,All)</text>
<polygon points="591.5,409 600,409 602,415.7 593.5,415.7" fill="#ece9d8" stroke="#303030" stroke-width="0.6"/>
<text x="596.75" y="414.8" font-size="6.5" fill="#000" font-weight="normal" textLength="3.5" lengthAdjust="spacingAndGlyphs" text-anchor="middle" ></text>
<text x="421.2" y="423.4" font-size="8.2" fill="#000" font-weight="bold" textLength="15.2" lengthAdjust="spacingAndGlyphs" >03/27</text>
<text x="449.09999999999997" y="423.4" font-size="8.2" fill="#000" font-weight="bold" textLength="15.2" lengthAdjust="spacingAndGlyphs" >03/28</text>
<text x="477.0" y="423.4" font-size="8.2" fill="#000" font-weight="bold" textLength="15.2" lengthAdjust="spacingAndGlyphs" >03/31</text>
<text x="504.9" y="423.4" font-size="8.2" fill="#000" font-weight="bold" textLength="15.2" lengthAdjust="spacingAndGlyphs" >04/01</text>
<text x="532.8" y="423.4" font-size="8.2" fill="#000" font-weight="bold" textLength="15.2" lengthAdjust="spacingAndGlyphs" >04/02</text>
<text x="560.7" y="423.4" font-size="8.2" fill="#000" font-weight="bold" textLength="15.2" lengthAdjust="spacingAndGlyphs" >04/03</text>
<text x="588.5999999999999" y="423.4" font-size="8.2" fill="#000" font-weight="bold" textLength="15.2" lengthAdjust="spacingAndGlyphs" >04/04</text>
<rect x="659.7" y="416.4" width="38.3" height="8.2" fill="#c8c8c8" />
<text x="661" y="423.2" font-size="7.6" fill="#000" font-weight="bold" textLength="35.5" lengthAdjust="spacingAndGlyphs" >04/07 11:00</text>
<rect x="411" y="435.5" width="6" height="4.5" fill="#ffffff" />
<line x1="417.5" y1="435.5" x2="417.5" y2="440" stroke="#404040" stroke-width="1" />
<rect x="419.7" y="435.5" width="59" height="4.5" fill="#8aa8ea" />
<rect x="438.5" y="435.5" width="11" height="3" fill="#3c64d8" />
<rect x="452" y="435.5" width="11" height="3" fill="#3c64d8" />
<rect x="465.5" y="435.5" width="11" height="3" fill="#c05050" />
<rect x="480" y="435.5" width="78.8" height="4.5" fill="#8aa8ea" />
<rect x="519.4" y="435.5" width="10.6" height="3" fill="#3c64d8" />
<rect x="531.5" y="435.5" width="11.5" height="3" fill="#3c64d8" />
<rect x="545.7" y="435.5" width="11.3" height="3" fill="#c05050" />
</svg></body></html>
